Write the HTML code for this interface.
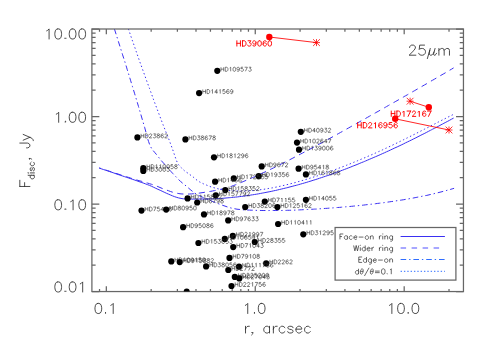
<!DOCTYPE html>
<html><head><meta charset="utf-8"><title>plot</title>
<style>html,body{margin:0;padding:0;background:#fff;font-family:"Liberation Sans",sans-serif;}svg{display:block}</style></head>
<body>
<svg width="491" height="350" viewBox="0 0 491 350">
<rect width="491" height="350" fill="#fff"/>
<clipPath id="c"><rect x="91.90" y="29.00" width="371.55" height="262.55"/></clipPath>
<g fill="none" stroke="#3a30f2" stroke-width="1" clip-path="url(#c)">
<path d="M99.2 168.1 L101.3 168.8 L103.4 169.5 L105.5 170.2 L107.6 170.9 L109.7 171.6 L111.8 172.3 L113.9 173.0 L116.0 173.8 L117.0 174.1 L118.1 174.5 L120.2 175.2 L122.3 175.9 L124.4 176.6 L126.5 177.3 L128.6 178.0 L130.7 178.7 L132.8 179.4 L134.8 180.1 L134.8 180.1 L136.9 180.8 L139.0 181.6 L141.1 182.3 L143.2 183.0 L145.3 183.8 L147.4 184.6 L148.0 184.8 L149.5 185.4 L151.6 186.3 L153.7 187.3 L155.8 188.3 L157.9 189.3 L160.0 190.2 L160.2 190.3 L162.1 191.2 L164.2 192.2 L166.3 193.2 L168.4 194.1 L170.5 195.0 L172.4 195.8 L172.6 195.9 L174.7 196.7 L176.8 197.4 L178.6 197.9 L178.9 198.0 L181.0 198.4 L183.1 198.8 L183.5 198.8 L185.2 198.9 L187.3 199.1 L189.4 199.1 L190.0 199.2 L191.5 199.1 L193.6 199.1 L195.7 199.1 L197.0 199.1 L197.8 199.1 L199.9 199.0 L202.0 199.0 L204.1 199.0 L206.1 199.0 L208.2 199.0 L208.2 199.0 L210.3 198.9 L212.4 198.9 L214.5 198.8 L216.6 198.6 L218.7 198.5 L219.3 198.5 L220.8 198.4 L222.9 198.3 L225.0 198.1 L227.1 197.9 L229.2 197.7 L230.5 197.6 L231.3 197.5 L233.4 197.3 L235.5 197.1 L237.6 196.9 L239.7 196.6 L241.6 196.4 L241.8 196.4 L243.9 196.1 L246.0 195.8 L248.1 195.5 L250.2 195.2 L252.3 194.8 L252.8 194.8 L254.4 194.5 L256.5 194.2 L258.6 193.8 L260.7 193.4 L262.8 193.0 L263.9 192.8 L264.9 192.6 L267.0 192.2 L269.1 191.8 L271.2 191.4 L273.3 190.9 L275.1 190.5 L275.4 190.5 L277.4 190.0 L279.5 189.5 L281.6 189.0 L283.7 188.5 L285.8 188.0 L286.3 187.9 L287.9 187.5 L290.0 186.9 L292.1 186.4 L294.2 185.8 L296.3 185.3 L297.4 185.0 L298.4 184.7 L300.5 184.1 L302.6 183.5 L304.7 182.9 L306.8 182.3 L308.6 181.7 L308.9 181.6 L311.0 181.0 L313.1 180.3 L315.2 179.7 L317.3 179.0 L319.4 178.3 L319.7 178.2 L321.5 177.6 L323.6 176.9 L325.7 176.2 L327.8 175.5 L329.9 174.8 L330.9 174.4 L332.0 174.0 L334.1 173.3 L336.2 172.5 L338.3 171.7 L340.4 171.0 L342.0 170.3 L342.5 170.2 L344.6 169.4 L346.7 168.6 L348.7 167.8 L350.8 167.0 L352.9 166.1 L353.2 166.0 L355.0 165.3 L357.1 164.5 L359.2 163.6 L361.3 162.7 L363.4 161.9 L364.3 161.5 L365.5 161.0 L367.6 160.1 L369.7 159.2 L371.8 158.3 L373.9 157.4 L375.5 156.7 L376.0 156.5 L378.1 155.6 L380.2 154.7 L382.3 153.7 L384.4 152.8 L386.5 151.8 L386.7 151.7 L388.6 150.9 L390.7 149.9 L392.8 148.9 L394.9 147.9 L397.0 147.0 L397.8 146.6 L399.1 146.0 L401.2 145.0 L403.3 144.0 L405.4 142.9 L407.5 141.9 L409.0 141.2 L409.6 140.9 L411.7 139.9 L413.8 138.8 L415.9 137.8 L418.0 136.7 L420.0 135.7 L420.1 135.6 L422.1 134.6 L424.2 133.6 L426.3 132.5 L428.4 131.4 L430.5 130.3 L431.3 129.9 L432.6 129.2 L434.7 128.2 L436.8 127.1 L438.9 126.0 L441.0 124.8 L442.4 124.1 L443.1 123.7 L445.2 122.6 L447.3 121.5 L449.4 120.4 L451.5 119.2 L453.6 118.1"/>
<path d="M99.2 167.9 L101.3 168.6 L103.4 169.3 L105.5 170.0 L107.6 170.6 L109.7 171.3 L111.8 172.0 L113.9 172.7 L116.0 173.4 L117.0 173.7 L118.1 174.0 L120.2 174.7 L122.3 175.4 L124.4 176.1 L126.5 176.8 L128.6 177.4 L130.7 178.1 L132.8 178.8 L134.8 179.4 L134.8 179.4 L136.9 180.0 L139.0 180.7 L141.1 181.2 L143.2 181.8 L145.3 182.4 L147.4 183.0 L149.5 183.7 L151.6 184.3 L153.7 185.0 L154.0 185.1 L155.8 185.8 L157.9 186.6 L160.0 187.5 L162.1 188.4 L164.2 189.2 L164.8 189.4 L166.3 190.0 L168.4 190.7 L170.5 191.5 L172.6 192.2 L174.7 192.8 L175.2 192.9 L176.8 193.2 L178.9 193.6 L181.0 193.9 L181.0 193.9 L183.1 194.0 L185.2 194.1 L185.5 194.1 L187.3 194.1 L189.4 194.0 L191.5 193.9 L193.6 193.7 L195.0 193.6 L195.7 193.5 L197.8 193.3 L199.9 193.0 L202.0 192.7 L204.1 192.4 L206.1 192.0 L207.0 191.9 L208.2 191.7 L210.3 191.4 L212.4 191.0 L214.5 190.6 L216.6 190.2 L218.7 189.8 L218.7 189.8 L220.8 189.3 L222.9 188.8 L225.0 188.3 L227.1 187.7 L229.2 187.1 L229.7 187.0 L231.3 186.4 L233.4 185.6 L235.5 184.8 L237.6 183.9 L239.4 183.2 L239.7 183.1 L241.8 182.2 L243.9 181.3 L246.0 180.4 L248.1 179.5 L249.2 179.1 L250.2 178.6 L252.3 177.7 L254.4 176.8 L256.5 175.8 L258.6 174.9 L258.9 174.7 L260.7 173.9 L262.8 173.0 L264.9 172.0 L267.0 171.0 L268.6 170.2 L269.1 170.0 L271.2 169.0 L273.3 168.0 L275.4 166.9 L277.4 165.9 L278.4 165.5 L279.5 164.9 L281.6 163.8 L283.7 162.8 L285.8 161.7 L287.9 160.7 L288.1 160.6 L290.0 159.6 L292.1 158.5 L294.2 157.4 L296.3 156.3 L297.8 155.5 L298.4 155.2 L300.5 154.1 L302.6 153.0 L304.7 151.9 L306.8 150.8 L307.6 150.4 L308.9 149.7 L311.0 148.6 L313.1 147.4 L315.2 146.3 L317.3 145.2 L317.3 145.2 L319.4 144.0 L321.5 142.9 L323.6 141.8 L325.7 140.6 L327.0 139.9 L327.8 139.5 L329.9 138.3 L332.0 137.2 L334.1 136.0 L336.2 134.8 L336.8 134.5 L338.3 133.7 L340.4 132.5 L342.5 131.4 L344.6 130.2 L346.5 129.1 L346.7 129.0 L348.7 127.9 L350.8 126.7 L352.9 125.5 L355.0 124.3 L356.3 123.7 L357.1 123.2 L359.2 122.0 L361.3 120.8 L363.4 119.6 L365.5 118.5 L366.0 118.2 L367.6 117.3 L369.7 116.1 L371.8 114.9 L373.9 113.7 L375.7 112.7 L376.0 112.5 L378.1 111.4 L380.2 110.2 L382.3 109.0 L384.4 107.8 L385.5 107.2 L386.5 106.6 L388.6 105.4 L390.7 104.2 L392.8 103.0 L394.9 101.9 L395.2 101.7 L397.0 100.7 L399.1 99.5 L401.2 98.3 L403.3 97.1 L404.9 96.1 L405.4 95.9 L407.5 94.7 L409.6 93.5 L411.7 92.3 L413.8 91.1 L414.7 90.6 L415.9 89.9 L418.0 88.7 L420.0 87.5 L422.1 86.3 L424.2 85.1 L424.4 85.0 L426.3 83.9 L428.4 82.7 L430.5 81.4 L432.6 80.2 L434.1 79.4 L434.7 79.0 L436.8 77.8 L438.9 76.6 L441.0 75.3 L443.1 74.1 L443.9 73.7 L445.2 72.9 L447.3 71.7 L449.4 70.4 L451.5 69.2 L453.6 67.9" stroke-dasharray="6.2 4.6" stroke-dashoffset="4.2"/>
<path d="M114.4 28.9 L116.4 35.2 L118.4 41.5 L120.4 47.8 L122.4 54.2 L124.5 60.6 L126.5 67.1 L127.1 69.2 L128.5 73.6 L130.5 80.2 L132.5 86.7 L134.5 93.2 L136.5 99.8 L138.5 106.5 L140.5 113.3 L142.5 120.2 L144.6 127.2 L146.0 132.4 L146.6 134.5 L147.8 139.2 L148.6 141.6 L149.7 144.7 L150.6 146.6 L151.5 148.3 L152.6 149.9 L154.6 152.3 L156.4 154.4 L156.6 154.7 L158.6 157.2 L160.6 159.8 L161.3 160.6 L162.6 162.1 L164.7 164.3 L166.7 166.5 L166.8 166.7 L168.7 168.9 L170.5 171.0 L170.7 171.2 L172.7 173.4 L174.7 175.5 L176.7 177.5 L176.7 177.5 L178.7 179.6 L180.7 181.6 L181.0 181.8 L182.7 183.3 L184.8 184.9 L186.8 186.6 L186.8 186.6 L188.8 188.3 L190.8 190.0 L192.0 191.0 L192.8 191.6 L194.8 193.1 L196.8 194.4 L197.2 194.6 L198.8 195.5 L200.8 196.4 L202.8 197.3 L204.9 198.2 L206.9 199.0 L208.0 199.5 L208.9 199.9 L210.9 200.7 L212.9 201.6 L214.9 202.4 L216.9 203.2 L218.9 203.9 L220.0 204.3 L220.9 204.6 L222.9 205.4 L225.0 206.1 L227.0 206.8 L229.0 207.4 L231.0 208.0 L232.8 208.4 L233.0 208.4 L235.0 208.8 L237.0 209.2 L239.0 209.4 L240.2 209.5 L241.0 209.6 L243.0 209.8 L245.1 209.9 L247.1 210.0 L249.1 210.1 L249.5 210.1 L251.1 210.2 L253.1 210.2 L255.1 210.3 L257.1 210.4 L258.8 210.4 L259.1 210.4 L261.1 210.5 L263.1 210.5 L265.2 210.5 L267.2 210.5 L268.1 210.6 L269.2 210.5 L271.2 210.5 L273.2 210.5 L275.2 210.5 L277.2 210.5 L277.4 210.5 L279.2 210.5 L281.2 210.5 L283.2 210.4 L285.3 210.4 L286.7 210.4 L287.3 210.3 L289.3 210.3 L291.3 210.2 L293.3 210.2 L295.3 210.1 L296.0 210.1 L297.3 210.0 L299.3 209.9 L301.3 209.8 L303.3 209.7 L305.3 209.6 L305.4 209.6 L307.4 209.5 L309.4 209.4 L311.4 209.3 L313.4 209.2 L314.6 209.1 L315.4 209.1 L317.4 209.0 L319.4 208.8 L321.4 208.7 L323.4 208.6 L323.9 208.5 L325.5 208.4 L327.5 208.3 L329.5 208.1 L331.5 208.0 L333.2 207.9 L333.5 207.8 L335.5 207.7 L337.5 207.5 L339.5 207.4 L341.5 207.2 L342.5 207.1 L343.5 207.0 L345.6 206.8 L347.6 206.7 L349.6 206.5 L351.6 206.3 L351.8 206.3 L353.6 206.1 L355.6 205.9 L357.6 205.7 L359.6 205.5 L361.1 205.3 L361.6 205.3 L363.6 205.1 L365.7 204.8 L367.7 204.6 L369.7 204.4 L370.4 204.3 L371.7 204.2 L373.7 203.9 L375.7 203.7 L377.7 203.4 L379.7 203.2 L379.7 203.2 L381.7 202.9 L383.7 202.7 L385.8 202.4 L387.8 202.1 L389.0 201.9 L389.8 201.8 L391.8 201.5 L393.8 201.3 L395.8 200.9 L397.8 200.6 L398.3 200.6 L399.8 200.3 L401.8 200.0 L403.8 199.7 L405.9 199.3 L407.6 199.0 L407.9 199.0 L409.9 198.6 L411.9 198.3 L413.9 197.9 L415.9 197.5 L416.9 197.3 L417.9 197.1 L419.9 196.8 L421.9 196.3 L423.9 195.9 L426.0 195.5 L426.2 195.5 L428.0 195.1 L430.0 194.6 L432.0 194.2 L434.0 193.7 L435.5 193.3 L436.0 193.2 L438.0 192.7 L440.0 192.2 L442.0 191.7 L444.0 191.1 L444.8 190.9 L446.1 190.6 L448.1 190.0 L450.1 189.5 L452.1 188.9 L454.1 188.3" stroke-dasharray="5.6 2.9 1.4 2.9"/>
<path d="M128.4 28.9 L130.3 34.5 L132.2 40.1 L134.2 45.6 L136.1 51.2 L138.0 56.6 L139.9 62.1 L141.9 67.4 L142.5 69.2 L143.8 72.8 L145.7 78.1 L147.6 83.4 L149.6 88.7 L151.5 93.9 L153.4 99.2 L155.3 104.3 L157.3 109.5 L159.2 114.6 L161.1 119.6 L163.0 124.6 L165.0 129.6 L165.6 131.2 L166.9 134.4 L168.6 138.6 L168.8 139.1 L170.7 144.3 L171.1 145.3 L172.7 149.6 L173.5 152.0 L174.6 155.2 L176.0 159.3 L176.5 160.6 L177.8 163.6 L178.4 164.5 L180.4 166.8 L181.5 167.9 L182.3 168.7 L184.2 170.5 L185.1 171.2 L186.1 172.0 L188.1 173.3 L189.6 174.4 L190.0 174.7 L191.9 176.1 L193.8 177.5 L193.8 177.5 L195.7 179.2 L197.5 180.6 L197.7 180.7 L199.6 181.9 L201.5 182.9 L201.8 183.0 L203.4 183.8 L205.4 184.6 L206.1 184.9 L207.3 185.4 L209.2 186.2 L211.1 186.9 L211.4 187.0 L213.1 187.5 L215.0 188.0 L215.4 188.1 L216.9 188.5 L218.8 189.0 L220.8 189.5 L222.0 189.7 L222.7 189.8 L224.6 190.1 L226.5 190.3 L228.5 190.5 L230.0 190.6 L230.4 190.6 L232.3 190.7 L234.2 190.9 L236.2 191.0 L238.1 191.0 L239.7 191.1 L240.0 191.1 L241.9 191.0 L243.9 191.0 L245.8 190.9 L247.7 190.8 L249.4 190.8 L249.6 190.8 L251.6 190.7 L253.5 190.5 L255.4 190.3 L257.3 190.1 L259.2 189.9 L259.2 189.9 L261.2 189.6 L263.1 189.4 L265.0 189.1 L266.9 188.8 L268.9 188.4 L268.9 188.4 L270.8 188.1 L272.7 187.8 L274.6 187.4 L276.6 187.0 L278.5 186.6 L278.6 186.6 L280.4 186.2 L282.3 185.7 L284.3 185.3 L286.2 184.8 L288.1 184.4 L288.3 184.3 L290.0 183.9 L292.0 183.4 L293.9 182.9 L295.8 182.4 L297.7 181.8 L298.1 181.7 L299.7 181.3 L301.6 180.7 L303.5 180.2 L305.4 179.6 L307.4 179.0 L307.8 178.9 L309.3 178.4 L311.2 177.8 L313.1 177.2 L315.1 176.6 L317.0 176.0 L317.5 175.8 L318.9 175.3 L320.8 174.7 L322.8 174.0 L324.7 173.3 L326.6 172.7 L327.2 172.5 L328.5 172.0 L330.4 171.3 L332.4 170.6 L334.3 169.9 L336.2 169.2 L336.9 168.9 L338.1 168.5 L340.1 167.7 L342.0 167.0 L343.9 166.3 L345.8 165.5 L346.7 165.2 L347.8 164.7 L349.7 164.0 L351.6 163.2 L353.5 162.4 L355.5 161.6 L356.4 161.3 L357.4 160.8 L359.3 160.0 L361.2 159.2 L363.2 158.4 L365.1 157.6 L366.1 157.2 L367.0 156.8 L368.9 155.9 L370.9 155.1 L372.8 154.2 L374.7 153.4 L375.8 152.9 L376.6 152.5 L378.6 151.6 L380.5 150.8 L382.4 149.9 L384.3 149.0 L385.5 148.4 L386.3 148.1 L388.2 147.2 L390.1 146.3 L392.0 145.4 L393.9 144.4 L395.3 143.8 L395.9 143.5 L397.8 142.6 L399.7 141.6 L401.6 140.7 L403.6 139.7 L405.0 139.0 L405.5 138.8 L407.4 137.8 L409.3 136.9 L411.3 135.9 L413.2 134.9 L414.7 134.2 L415.1 134.0 L417.0 133.0 L419.0 132.0 L420.9 131.0 L422.8 130.0 L424.4 129.2 L424.7 129.1 L426.7 128.1 L428.6 127.1 L430.5 126.1 L432.4 125.1 L434.2 124.2 L434.4 124.1 L436.3 123.1 L438.2 122.1 L440.1 121.1 L442.1 120.1 L443.9 119.2 L444.0 119.2 L445.9 118.2 L447.8 117.2 L449.8 116.2 L451.7 115.3 L453.6 114.3" stroke-dasharray="1.4 2.5"/>
</g>
<g fill="none" stroke="#666" stroke-width="1.25">
<rect x="91.90" y="29.00" width="371.55" height="262.55"/>
<path d="M99.52 291.55 v-2.63 M99.52 29.00 v2.63 M106.33 291.55 v-5.25 M106.33 29.00 v5.25 M151.16 291.55 v-2.63 M151.16 29.00 v2.63 M177.39 291.55 v-2.63 M177.39 29.00 v2.63 M196.00 291.55 v-2.63 M196.00 29.00 v2.63 M210.43 291.55 v-2.63 M210.43 29.00 v2.63 M222.22 291.55 v-2.63 M222.22 29.00 v2.63 M232.19 291.55 v-2.63 M232.19 29.00 v2.63 M240.83 291.55 v-2.63 M240.83 29.00 v2.63 M248.44 291.55 v-2.63 M248.44 29.00 v2.63 M255.26 291.55 v-5.25 M255.26 29.00 v5.25 M300.09 291.55 v-2.63 M300.09 29.00 v2.63 M326.32 291.55 v-2.63 M326.32 29.00 v2.63 M344.92 291.55 v-2.63 M344.92 29.00 v2.63 M359.35 291.55 v-2.63 M359.35 29.00 v2.63 M371.15 291.55 v-2.63 M371.15 29.00 v2.63 M381.12 291.55 v-2.63 M381.12 29.00 v2.63 M389.75 291.55 v-2.63 M389.75 29.00 v2.63 M397.37 291.55 v-2.63 M397.37 29.00 v2.63 M404.19 291.55 v-5.25 M404.19 29.00 v5.25 M449.02 291.55 v-2.63 M449.02 29.00 v2.63 M91.90 291.55 h7.43 M463.45 291.55 h-7.43 M91.90 265.20 h3.72 M463.45 265.20 h-3.72 M91.90 249.79 h3.72 M463.45 249.79 h-3.72 M91.90 238.86 h3.72 M463.45 238.86 h-3.72 M91.90 230.38 h3.72 M463.45 230.38 h-3.72 M91.90 223.45 h3.72 M463.45 223.45 h-3.72 M91.90 217.59 h3.72 M463.45 217.59 h-3.72 M91.90 212.51 h3.72 M463.45 212.51 h-3.72 M91.90 208.04 h3.72 M463.45 208.04 h-3.72 M91.90 204.03 h7.43 M463.45 204.03 h-7.43 M91.90 177.69 h3.72 M463.45 177.69 h-3.72 M91.90 162.28 h3.72 M463.45 162.28 h-3.72 M91.90 151.34 h3.72 M463.45 151.34 h-3.72 M91.90 142.86 h3.72 M463.45 142.86 h-3.72 M91.90 135.93 h3.72 M463.45 135.93 h-3.72 M91.90 130.07 h3.72 M463.45 130.07 h-3.72 M91.90 125.00 h3.72 M463.45 125.00 h-3.72 M91.90 120.52 h3.72 M463.45 120.52 h-3.72 M91.90 116.52 h7.43 M463.45 116.52 h-7.43 M91.90 90.17 h3.72 M463.45 90.17 h-3.72 M91.90 74.76 h3.72 M463.45 74.76 h-3.72 M91.90 63.83 h3.72 M463.45 63.83 h-3.72 M91.90 55.35 h3.72 M463.45 55.35 h-3.72 M91.90 48.42 h3.72 M463.45 48.42 h-3.72 M91.90 42.56 h3.72 M463.45 42.56 h-3.72 M91.90 37.48 h3.72 M463.45 37.48 h-3.72 M91.90 33.00 h3.72 M463.45 33.00 h-3.72 M91.90 29.00 h7.43 M463.45 29.00 h-7.43"/>
</g>
<g>
<circle cx="217.3" cy="70.8" r="3.1" fill="#000"/>
<path d="M220.98 67.23 L220.98 71.30 M223.69 67.23 L223.69 71.30 M220.98 69.17 L223.69 69.17 M225.24 67.23 L225.24 71.30 M225.24 67.23 L226.60 67.23 L227.18 67.42 L227.57 67.81 L227.77 68.20 L227.96 68.78 L227.96 69.75 L227.77 70.33 L227.57 70.72 L227.18 71.11 L226.60 71.30 L225.24 71.30 M229.71 68.00 L230.09 67.81 L230.68 67.23 L230.68 71.30 M234.17 67.23 L233.59 67.42 L233.20 68.00 L233.00 68.97 L233.00 69.55 L233.20 70.52 L233.59 71.11 L234.17 71.30 L234.56 71.30 L235.14 71.11 L235.53 70.52 L235.72 69.55 L235.72 68.97 L235.53 68.00 L235.14 67.42 L234.56 67.23 L234.17 67.23 M239.41 68.58 L239.21 69.17 L238.82 69.55 L238.24 69.75 L238.05 69.75 L237.47 69.55 L237.08 69.17 L236.88 68.58 L236.88 68.39 L237.08 67.81 L237.47 67.42 L238.05 67.23 L238.24 67.23 L238.82 67.42 L239.21 67.81 L239.41 68.58 L239.41 69.55 L239.21 70.52 L238.82 71.11 L238.24 71.30 L237.85 71.30 L237.27 71.11 L237.08 70.72 M243.09 67.23 L241.15 67.23 L240.96 68.97 L241.15 68.78 L241.73 68.58 L242.32 68.58 L242.90 68.78 L243.29 69.17 L243.48 69.75 L243.48 70.14 L243.29 70.72 L242.90 71.11 L242.32 71.30 L241.73 71.30 L241.15 71.11 L240.96 70.91 L240.76 70.52 M247.36 67.23 L245.42 71.30 M244.64 67.23 L247.36 67.23 M248.91 67.23 L251.05 67.23 L249.88 68.78 L250.46 68.78 L250.85 68.97 L251.05 69.17 L251.24 69.75 L251.24 70.14 L251.05 70.72 L250.66 71.11 L250.08 71.30 L249.49 71.30 L248.91 71.11 L248.72 70.91 L248.52 70.52" fill="none" stroke="#2a2a2a" stroke-width="0.6"/>
<circle cx="199.1" cy="93.1" r="3.1" fill="#000"/>
<path d="M202.78 89.53 L202.78 93.60 M205.49 89.53 L205.49 93.60 M202.78 91.47 L205.49 91.47 M207.04 89.53 L207.04 93.60 M207.04 89.53 L208.40 89.53 L208.98 89.72 L209.37 90.11 L209.57 90.50 L209.76 91.08 L209.76 92.05 L209.57 92.63 L209.37 93.02 L208.98 93.41 L208.40 93.60 L207.04 93.60 M211.51 90.30 L211.89 90.11 L212.48 89.53 L212.48 93.60 M216.74 89.53 L214.80 92.24 L217.71 92.24 M216.74 89.53 L216.74 93.60 M219.27 90.30 L219.65 90.11 L220.24 89.53 L220.24 93.60 M224.89 89.53 L222.95 89.53 L222.76 91.27 L222.95 91.08 L223.53 90.88 L224.12 90.88 L224.70 91.08 L225.09 91.47 L225.28 92.05 L225.28 92.44 L225.09 93.02 L224.70 93.41 L224.12 93.60 L223.53 93.60 L222.95 93.41 L222.76 93.21 L222.56 92.82 M228.97 90.11 L228.77 89.72 L228.19 89.53 L227.80 89.53 L227.22 89.72 L226.83 90.30 L226.64 91.27 L226.64 92.24 L226.83 93.02 L227.22 93.41 L227.80 93.60 L228.00 93.60 L228.58 93.41 L228.97 93.02 L229.16 92.44 L229.16 92.24 L228.97 91.66 L228.58 91.27 L228.00 91.08 L227.80 91.08 L227.22 91.27 L226.83 91.66 L226.64 92.24 M232.85 90.88 L232.65 91.47 L232.26 91.85 L231.68 92.05 L231.49 92.05 L230.91 91.85 L230.52 91.47 L230.32 90.88 L230.32 90.69 L230.52 90.11 L230.91 89.72 L231.49 89.53 L231.68 89.53 L232.26 89.72 L232.65 90.11 L232.85 90.88 L232.85 91.85 L232.65 92.82 L232.26 93.41 L231.68 93.60 L231.29 93.60 L230.71 93.41 L230.52 93.02" fill="none" stroke="#2a2a2a" stroke-width="0.6"/>
<circle cx="137.4" cy="137.4" r="3.1" fill="#000"/>
<path d="M141.08 133.83 L141.08 137.90 M143.79 133.83 L143.79 137.90 M141.08 135.77 L143.79 135.77 M145.34 133.83 L145.34 137.90 M145.34 133.83 L146.70 133.83 L147.28 134.02 L147.67 134.41 L147.87 134.80 L148.06 135.38 L148.06 136.35 L147.87 136.93 L147.67 137.32 L147.28 137.71 L146.70 137.90 L145.34 137.90 M149.42 134.80 L149.42 134.60 L149.61 134.21 L149.81 134.02 L150.19 133.83 L150.97 133.83 L151.36 134.02 L151.55 134.21 L151.75 134.60 L151.75 134.99 L151.55 135.38 L151.16 135.96 L149.22 137.90 L151.94 137.90 M153.49 133.83 L155.63 133.83 L154.46 135.38 L155.04 135.38 L155.43 135.57 L155.63 135.77 L155.82 136.35 L155.82 136.74 L155.63 137.32 L155.24 137.71 L154.66 137.90 L154.07 137.90 L153.49 137.71 L153.30 137.51 L153.10 137.12 M157.95 133.83 L157.37 134.02 L157.18 134.41 L157.18 134.80 L157.37 135.18 L157.76 135.38 L158.54 135.57 L159.12 135.77 L159.51 136.15 L159.70 136.54 L159.70 137.12 L159.51 137.51 L159.31 137.71 L158.73 137.90 L157.95 137.90 L157.37 137.71 L157.18 137.51 L156.98 137.12 L156.98 136.54 L157.18 136.15 L157.57 135.77 L158.15 135.57 L158.92 135.38 L159.31 135.18 L159.51 134.80 L159.51 134.41 L159.31 134.02 L158.73 133.83 L157.95 133.83 M163.39 134.41 L163.19 134.02 L162.61 133.83 L162.22 133.83 L161.64 134.02 L161.25 134.60 L161.06 135.57 L161.06 136.54 L161.25 137.32 L161.64 137.71 L162.22 137.90 L162.42 137.90 L163.00 137.71 L163.39 137.32 L163.58 136.74 L163.58 136.54 L163.39 135.96 L163.00 135.57 L162.42 135.38 L162.22 135.38 L161.64 135.57 L161.25 135.96 L161.06 136.54 M164.94 134.80 L164.94 134.60 L165.13 134.21 L165.33 134.02 L165.71 133.83 L166.49 133.83 L166.88 134.02 L167.07 134.21 L167.27 134.60 L167.27 134.99 L167.07 135.38 L166.68 135.96 L164.74 137.90 L167.46 137.90" fill="none" stroke="#2a2a2a" stroke-width="0.6"/>
<circle cx="185.4" cy="139.4" r="3.1" fill="#000"/>
<path d="M189.08 135.83 L189.08 139.90 M191.79 135.83 L191.79 139.90 M189.08 137.77 L191.79 137.77 M193.34 135.83 L193.34 139.90 M193.34 135.83 L194.70 135.83 L195.28 136.02 L195.67 136.41 L195.87 136.80 L196.06 137.38 L196.06 138.35 L195.87 138.93 L195.67 139.32 L195.28 139.71 L194.70 139.90 L193.34 139.90 M197.61 135.83 L199.75 135.83 L198.58 137.38 L199.16 137.38 L199.55 137.57 L199.75 137.77 L199.94 138.35 L199.94 138.74 L199.75 139.32 L199.36 139.71 L198.78 139.90 L198.19 139.90 L197.61 139.71 L197.42 139.51 L197.22 139.12 M202.07 135.83 L201.49 136.02 L201.30 136.41 L201.30 136.80 L201.49 137.18 L201.88 137.38 L202.66 137.57 L203.24 137.77 L203.63 138.15 L203.82 138.54 L203.82 139.12 L203.63 139.51 L203.43 139.71 L202.85 139.90 L202.07 139.90 L201.49 139.71 L201.30 139.51 L201.10 139.12 L201.10 138.54 L201.30 138.15 L201.69 137.77 L202.27 137.57 L203.04 137.38 L203.43 137.18 L203.63 136.80 L203.63 136.41 L203.43 136.02 L202.85 135.83 L202.07 135.83 M207.51 136.41 L207.31 136.02 L206.73 135.83 L206.34 135.83 L205.76 136.02 L205.37 136.60 L205.18 137.57 L205.18 138.54 L205.37 139.32 L205.76 139.71 L206.34 139.90 L206.54 139.90 L207.12 139.71 L207.51 139.32 L207.70 138.74 L207.70 138.54 L207.51 137.96 L207.12 137.57 L206.54 137.38 L206.34 137.38 L205.76 137.57 L205.37 137.96 L205.18 138.54 M211.58 135.83 L209.64 139.90 M208.86 135.83 L211.58 135.83 M213.71 135.83 L213.13 136.02 L212.94 136.41 L212.94 136.80 L213.13 137.18 L213.52 137.38 L214.30 137.57 L214.88 137.77 L215.27 138.15 L215.46 138.54 L215.46 139.12 L215.27 139.51 L215.07 139.71 L214.49 139.90 L213.71 139.90 L213.13 139.71 L212.94 139.51 L212.74 139.12 L212.74 138.54 L212.94 138.15 L213.33 137.77 L213.91 137.57 L214.68 137.38 L215.07 137.18 L215.27 136.80 L215.27 136.41 L215.07 136.02 L214.49 135.83 L213.71 135.83" fill="none" stroke="#2a2a2a" stroke-width="0.6"/>
<circle cx="214.0" cy="157.3" r="3.1" fill="#000"/>
<path d="M217.68 153.73 L217.68 157.80 M220.39 153.73 L220.39 157.80 M217.68 155.67 L220.39 155.67 M221.94 153.73 L221.94 157.80 M221.94 153.73 L223.30 153.73 L223.88 153.92 L224.27 154.31 L224.47 154.70 L224.66 155.28 L224.66 156.25 L224.47 156.83 L224.27 157.22 L223.88 157.61 L223.30 157.80 L221.94 157.80 M226.41 154.50 L226.79 154.31 L227.38 153.73 L227.38 157.80 M230.67 153.73 L230.09 153.92 L229.90 154.31 L229.90 154.70 L230.09 155.08 L230.48 155.28 L231.26 155.47 L231.84 155.67 L232.23 156.05 L232.42 156.44 L232.42 157.02 L232.23 157.41 L232.03 157.61 L231.45 157.80 L230.67 157.80 L230.09 157.61 L229.90 157.41 L229.70 157.02 L229.70 156.44 L229.90 156.05 L230.29 155.67 L230.87 155.47 L231.64 155.28 L232.03 155.08 L232.23 154.70 L232.23 154.31 L232.03 153.92 L231.45 153.73 L230.67 153.73 M234.17 154.50 L234.55 154.31 L235.14 153.73 L235.14 157.80 M237.66 154.70 L237.66 154.50 L237.85 154.11 L238.05 153.92 L238.43 153.73 L239.21 153.73 L239.60 153.92 L239.79 154.11 L239.99 154.50 L239.99 154.89 L239.79 155.28 L239.40 155.86 L237.46 157.80 L240.18 157.80 M243.87 155.08 L243.67 155.67 L243.28 156.05 L242.70 156.25 L242.51 156.25 L241.93 156.05 L241.54 155.67 L241.34 155.08 L241.34 154.89 L241.54 154.31 L241.93 153.92 L242.51 153.73 L242.70 153.73 L243.28 153.92 L243.67 154.31 L243.87 155.08 L243.87 156.05 L243.67 157.02 L243.28 157.61 L242.70 157.80 L242.31 157.80 L241.73 157.61 L241.54 157.22 M247.75 154.31 L247.55 153.92 L246.97 153.73 L246.58 153.73 L246.00 153.92 L245.61 154.50 L245.42 155.47 L245.42 156.44 L245.61 157.22 L246.00 157.61 L246.58 157.80 L246.78 157.80 L247.36 157.61 L247.75 157.22 L247.94 156.64 L247.94 156.44 L247.75 155.86 L247.36 155.47 L246.78 155.28 L246.58 155.28 L246.00 155.47 L245.61 155.86 L245.42 156.44" fill="none" stroke="#2a2a2a" stroke-width="0.6"/>
<circle cx="143.3" cy="168.2" r="3.1" fill="#000"/>
<path d="M146.98 164.63 L146.98 168.70 M149.69 164.63 L149.69 168.70 M146.98 166.57 L149.69 166.57 M151.24 164.63 L151.24 168.70 M151.24 164.63 L152.60 164.63 L153.18 164.82 L153.57 165.21 L153.77 165.60 L153.96 166.18 L153.96 167.15 L153.77 167.73 L153.57 168.12 L153.18 168.51 L152.60 168.70 L151.24 168.70 M155.71 165.40 L156.09 165.21 L156.68 164.63 L156.68 168.70 M159.59 165.40 L159.97 165.21 L160.56 164.63 L160.56 168.70 M164.05 164.63 L163.47 164.82 L163.08 165.40 L162.88 166.37 L162.88 166.95 L163.08 167.92 L163.47 168.51 L164.05 168.70 L164.44 168.70 L165.02 168.51 L165.41 167.92 L165.60 166.95 L165.60 166.37 L165.41 165.40 L165.02 164.82 L164.44 164.63 L164.05 164.63 M167.93 164.63 L167.35 164.82 L166.96 165.40 L166.76 166.37 L166.76 166.95 L166.96 167.92 L167.35 168.51 L167.93 168.70 L168.32 168.70 L168.90 168.51 L169.29 167.92 L169.48 166.95 L169.48 166.37 L169.29 165.40 L168.90 164.82 L168.32 164.63 L167.93 164.63 M172.97 164.63 L171.03 164.63 L170.84 166.37 L171.03 166.18 L171.61 165.98 L172.20 165.98 L172.78 166.18 L173.17 166.57 L173.36 167.15 L173.36 167.54 L173.17 168.12 L172.78 168.51 L172.20 168.70 L171.61 168.70 L171.03 168.51 L170.84 168.31 L170.64 167.92 M175.49 164.63 L174.91 164.82 L174.72 165.21 L174.72 165.60 L174.91 165.98 L175.30 166.18 L176.08 166.37 L176.66 166.57 L177.05 166.95 L177.24 167.34 L177.24 167.92 L177.05 168.31 L176.85 168.51 L176.27 168.70 L175.49 168.70 L174.91 168.51 L174.72 168.31 L174.52 167.92 L174.52 167.34 L174.72 166.95 L175.11 166.57 L175.69 166.37 L176.46 166.18 L176.85 165.98 L177.05 165.60 L177.05 165.21 L176.85 164.82 L176.27 164.63 L175.49 164.63" fill="none" stroke="#2a2a2a" stroke-width="0.6"/>
<circle cx="143.3" cy="170.9" r="3.1" fill="#000"/>
<path d="M146.98 167.33 L146.98 171.40 M149.69 167.33 L149.69 171.40 M146.98 169.27 L149.69 169.27 M151.24 167.33 L151.24 171.40 M151.24 167.33 L152.60 167.33 L153.18 167.52 L153.57 167.91 L153.77 168.30 L153.96 168.88 L153.96 169.85 L153.77 170.43 L153.57 170.82 L153.18 171.21 L152.60 171.40 L151.24 171.40 M155.51 167.33 L157.65 167.33 L156.48 168.88 L157.06 168.88 L157.45 169.07 L157.65 169.27 L157.84 169.85 L157.84 170.24 L157.65 170.82 L157.26 171.21 L156.68 171.40 L156.09 171.40 L155.51 171.21 L155.32 171.01 L155.12 170.62 M160.17 167.33 L159.59 167.52 L159.20 168.10 L159.00 169.07 L159.00 169.65 L159.20 170.62 L159.59 171.21 L160.17 171.40 L160.56 171.40 L161.14 171.21 L161.53 170.62 L161.72 169.65 L161.72 169.07 L161.53 168.10 L161.14 167.52 L160.56 167.33 L160.17 167.33 M164.05 167.33 L163.47 167.52 L163.08 168.10 L162.88 169.07 L162.88 169.65 L163.08 170.62 L163.47 171.21 L164.05 171.40 L164.44 171.40 L165.02 171.21 L165.41 170.62 L165.60 169.65 L165.60 169.07 L165.41 168.10 L165.02 167.52 L164.44 167.33 L164.05 167.33 M167.15 167.33 L169.29 167.33 L168.12 168.88 L168.70 168.88 L169.09 169.07 L169.29 169.27 L169.48 169.85 L169.48 170.24 L169.29 170.82 L168.90 171.21 L168.32 171.40 L167.73 171.40 L167.15 171.21 L166.96 171.01 L166.76 170.62" fill="none" stroke="#2a2a2a" stroke-width="0.6"/>
<circle cx="300.8" cy="131.8" r="3.1" fill="#000"/>
<path d="M304.48 128.23 L304.48 132.30 M307.19 128.23 L307.19 132.30 M304.48 130.17 L307.19 130.17 M308.74 128.23 L308.74 132.30 M308.74 128.23 L310.10 128.23 L310.68 128.42 L311.07 128.81 L311.27 129.20 L311.46 129.78 L311.46 130.75 L311.27 131.33 L311.07 131.72 L310.68 132.11 L310.10 132.30 L308.74 132.30 M314.56 128.23 L312.62 130.94 L315.53 130.94 M314.56 128.23 L314.56 132.30 M317.67 128.23 L317.09 128.42 L316.70 129.00 L316.50 129.97 L316.50 130.55 L316.70 131.52 L317.09 132.11 L317.67 132.30 L318.06 132.30 L318.64 132.11 L319.03 131.52 L319.22 130.55 L319.22 129.97 L319.03 129.00 L318.64 128.42 L318.06 128.23 L317.67 128.23 M322.91 129.58 L322.71 130.17 L322.32 130.55 L321.74 130.75 L321.55 130.75 L320.97 130.55 L320.58 130.17 L320.38 129.58 L320.38 129.39 L320.58 128.81 L320.97 128.42 L321.55 128.23 L321.74 128.23 L322.32 128.42 L322.71 128.81 L322.91 129.58 L322.91 130.55 L322.71 131.52 L322.32 132.11 L321.74 132.30 L321.35 132.30 L320.77 132.11 L320.58 131.72 M324.65 128.23 L326.79 128.23 L325.62 129.78 L326.20 129.78 L326.59 129.97 L326.79 130.17 L326.98 130.75 L326.98 131.14 L326.79 131.72 L326.40 132.11 L325.82 132.30 L325.23 132.30 L324.65 132.11 L324.46 131.91 L324.26 131.52 M328.34 129.20 L328.34 129.00 L328.53 128.61 L328.73 128.42 L329.11 128.23 L329.89 128.23 L330.28 128.42 L330.47 128.61 L330.67 129.00 L330.67 129.39 L330.47 129.78 L330.08 130.36 L328.14 132.30 L330.86 132.30" fill="none" stroke="#2a2a2a" stroke-width="0.6"/>
<circle cx="297.0" cy="142.6" r="3.1" fill="#000"/>
<path d="M300.68 139.03 L300.68 143.10 M303.39 139.03 L303.39 143.10 M300.68 140.97 L303.39 140.97 M304.94 139.03 L304.94 143.10 M304.94 139.03 L306.30 139.03 L306.88 139.22 L307.27 139.61 L307.47 140.00 L307.66 140.58 L307.66 141.55 L307.47 142.13 L307.27 142.52 L306.88 142.91 L306.30 143.10 L304.94 143.10 M309.41 139.80 L309.79 139.61 L310.38 139.03 L310.38 143.10 M313.87 139.03 L313.29 139.22 L312.90 139.80 L312.70 140.77 L312.70 141.35 L312.90 142.32 L313.29 142.91 L313.87 143.10 L314.26 143.10 L314.84 142.91 L315.23 142.32 L315.42 141.35 L315.42 140.77 L315.23 139.80 L314.84 139.22 L314.26 139.03 L313.87 139.03 M316.78 140.00 L316.78 139.80 L316.97 139.41 L317.17 139.22 L317.55 139.03 L318.33 139.03 L318.72 139.22 L318.91 139.41 L319.11 139.80 L319.11 140.19 L318.91 140.58 L318.52 141.16 L316.58 143.10 L319.30 143.10 M322.99 139.61 L322.79 139.22 L322.21 139.03 L321.82 139.03 L321.24 139.22 L320.85 139.80 L320.66 140.77 L320.66 141.74 L320.85 142.52 L321.24 142.91 L321.82 143.10 L322.02 143.10 L322.60 142.91 L322.99 142.52 L323.18 141.94 L323.18 141.74 L322.99 141.16 L322.60 140.77 L322.02 140.58 L321.82 140.58 L321.24 140.77 L320.85 141.16 L320.66 141.74 M326.28 139.03 L324.34 141.74 L327.25 141.74 M326.28 139.03 L326.28 143.10 M330.94 139.03 L329.00 143.10 M328.22 139.03 L330.94 139.03" fill="none" stroke="#2a2a2a" stroke-width="0.6"/>
<circle cx="299.0" cy="149.7" r="3.1" fill="#000"/>
<path d="M302.68 146.13 L302.68 150.20 M305.39 146.13 L305.39 150.20 M302.68 148.07 L305.39 148.07 M306.94 146.13 L306.94 150.20 M306.94 146.13 L308.30 146.13 L308.88 146.32 L309.27 146.71 L309.47 147.10 L309.66 147.68 L309.66 148.65 L309.47 149.23 L309.27 149.62 L308.88 150.01 L308.30 150.20 L306.94 150.20 M311.41 146.90 L311.79 146.71 L312.38 146.13 L312.38 150.20 M315.09 146.13 L317.23 146.13 L316.06 147.68 L316.64 147.68 L317.03 147.87 L317.23 148.07 L317.42 148.65 L317.42 149.04 L317.23 149.62 L316.84 150.01 L316.26 150.20 L315.67 150.20 L315.09 150.01 L314.90 149.81 L314.70 149.42 M321.11 147.48 L320.91 148.07 L320.52 148.45 L319.94 148.65 L319.75 148.65 L319.17 148.45 L318.78 148.07 L318.58 147.48 L318.58 147.29 L318.78 146.71 L319.17 146.32 L319.75 146.13 L319.94 146.13 L320.52 146.32 L320.91 146.71 L321.11 147.48 L321.11 148.45 L320.91 149.42 L320.52 150.01 L319.94 150.20 L319.55 150.20 L318.97 150.01 L318.78 149.62 M323.63 146.13 L323.05 146.32 L322.66 146.90 L322.46 147.87 L322.46 148.45 L322.66 149.42 L323.05 150.01 L323.63 150.20 L324.02 150.20 L324.60 150.01 L324.99 149.42 L325.18 148.45 L325.18 147.87 L324.99 146.90 L324.60 146.32 L324.02 146.13 L323.63 146.13 M327.51 146.13 L326.93 146.32 L326.54 146.90 L326.34 147.87 L326.34 148.45 L326.54 149.42 L326.93 150.01 L327.51 150.20 L327.90 150.20 L328.48 150.01 L328.87 149.42 L329.06 148.45 L329.06 147.87 L328.87 146.90 L328.48 146.32 L327.90 146.13 L327.51 146.13 M332.75 146.71 L332.55 146.32 L331.97 146.13 L331.58 146.13 L331.00 146.32 L330.61 146.90 L330.42 147.87 L330.42 148.84 L330.61 149.62 L331.00 150.01 L331.58 150.20 L331.78 150.20 L332.36 150.01 L332.75 149.62 L332.94 149.04 L332.94 148.84 L332.75 148.26 L332.36 147.87 L331.78 147.68 L331.58 147.68 L331.00 147.87 L330.61 148.26 L330.42 148.84" fill="none" stroke="#2a2a2a" stroke-width="0.6"/>
<circle cx="261.7" cy="166.4" r="3.1" fill="#000"/>
<path d="M265.38 162.83 L265.38 166.90 M268.09 162.83 L268.09 166.90 M265.38 164.77 L268.09 164.77 M269.64 162.83 L269.64 166.90 M269.64 162.83 L271.00 162.83 L271.58 163.02 L271.97 163.41 L272.17 163.80 L272.36 164.38 L272.36 165.35 L272.17 165.93 L271.97 166.32 L271.58 166.71 L271.00 166.90 L269.64 166.90 M276.05 164.18 L275.85 164.77 L275.46 165.15 L274.88 165.35 L274.69 165.35 L274.11 165.15 L273.72 164.77 L273.52 164.18 L273.52 163.99 L273.72 163.41 L274.11 163.02 L274.69 162.83 L274.88 162.83 L275.46 163.02 L275.85 163.41 L276.05 164.18 L276.05 165.15 L275.85 166.12 L275.46 166.71 L274.88 166.90 L274.49 166.90 L273.91 166.71 L273.72 166.32 M279.93 163.41 L279.73 163.02 L279.15 162.83 L278.76 162.83 L278.18 163.02 L277.79 163.60 L277.60 164.57 L277.60 165.54 L277.79 166.32 L278.18 166.71 L278.76 166.90 L278.96 166.90 L279.54 166.71 L279.93 166.32 L280.12 165.74 L280.12 165.54 L279.93 164.96 L279.54 164.57 L278.96 164.38 L278.76 164.38 L278.18 164.57 L277.79 164.96 L277.60 165.54 M284.00 162.83 L282.06 166.90 M281.28 162.83 L284.00 162.83 M285.36 163.80 L285.36 163.60 L285.55 163.21 L285.75 163.02 L286.13 162.83 L286.91 162.83 L287.30 163.02 L287.49 163.21 L287.69 163.60 L287.69 163.99 L287.49 164.38 L287.10 164.96 L285.16 166.90 L287.88 166.90" fill="none" stroke="#2a2a2a" stroke-width="0.6"/>
<circle cx="298.6" cy="168.7" r="3.1" fill="#000"/>
<path d="M302.28 165.13 L302.28 169.20 M304.99 165.13 L304.99 169.20 M302.28 167.07 L304.99 167.07 M306.54 165.13 L306.54 169.20 M306.54 165.13 L307.90 165.13 L308.48 165.32 L308.87 165.71 L309.07 166.10 L309.26 166.68 L309.26 167.65 L309.07 168.23 L308.87 168.62 L308.48 169.01 L307.90 169.20 L306.54 169.20 M312.95 166.48 L312.75 167.07 L312.36 167.45 L311.78 167.65 L311.59 167.65 L311.01 167.45 L310.62 167.07 L310.42 166.48 L310.42 166.29 L310.62 165.71 L311.01 165.32 L311.59 165.13 L311.78 165.13 L312.36 165.32 L312.75 165.71 L312.95 166.48 L312.95 167.45 L312.75 168.42 L312.36 169.01 L311.78 169.20 L311.39 169.20 L310.81 169.01 L310.62 168.62 M316.63 165.13 L314.69 165.13 L314.50 166.87 L314.69 166.68 L315.27 166.48 L315.86 166.48 L316.44 166.68 L316.83 167.07 L317.02 167.65 L317.02 168.04 L316.83 168.62 L316.44 169.01 L315.86 169.20 L315.27 169.20 L314.69 169.01 L314.50 168.81 L314.30 168.42 M320.12 165.13 L318.18 167.84 L321.09 167.84 M320.12 165.13 L320.12 169.20 M322.65 165.90 L323.03 165.71 L323.62 165.13 L323.62 169.20 M326.91 165.13 L326.33 165.32 L326.14 165.71 L326.14 166.10 L326.33 166.48 L326.72 166.68 L327.50 166.87 L328.08 167.07 L328.47 167.45 L328.66 167.84 L328.66 168.42 L328.47 168.81 L328.27 169.01 L327.69 169.20 L326.91 169.20 L326.33 169.01 L326.14 168.81 L325.94 168.42 L325.94 167.84 L326.14 167.45 L326.53 167.07 L327.11 166.87 L327.88 166.68 L328.27 166.48 L328.47 166.10 L328.47 165.71 L328.27 165.32 L327.69 165.13 L326.91 165.13" fill="none" stroke="#2a2a2a" stroke-width="0.6"/>
<circle cx="305.9" cy="174.4" r="3.1" fill="#000"/>
<path d="M309.58 170.83 L309.58 174.90 M312.29 170.83 L312.29 174.90 M309.58 172.77 L312.29 172.77 M313.84 170.83 L313.84 174.90 M313.84 170.83 L315.20 170.83 L315.78 171.02 L316.17 171.41 L316.37 171.80 L316.56 172.38 L316.56 173.35 L316.37 173.93 L316.17 174.32 L315.78 174.71 L315.20 174.90 L313.84 174.90 M318.31 171.60 L318.69 171.41 L319.28 170.83 L319.28 174.90 M324.13 171.41 L323.93 171.02 L323.35 170.83 L322.96 170.83 L322.38 171.02 L321.99 171.60 L321.80 172.57 L321.80 173.54 L321.99 174.32 L322.38 174.71 L322.96 174.90 L323.16 174.90 L323.74 174.71 L324.13 174.32 L324.32 173.74 L324.32 173.54 L324.13 172.96 L323.74 172.57 L323.16 172.38 L322.96 172.38 L322.38 172.57 L321.99 172.96 L321.80 173.54 M326.07 171.60 L326.45 171.41 L327.04 170.83 L327.04 174.90 M330.33 170.83 L329.75 171.02 L329.56 171.41 L329.56 171.80 L329.75 172.18 L330.14 172.38 L330.92 172.57 L331.50 172.77 L331.89 173.15 L332.08 173.54 L332.08 174.12 L331.89 174.51 L331.69 174.71 L331.11 174.90 L330.33 174.90 L329.75 174.71 L329.56 174.51 L329.36 174.12 L329.36 173.54 L329.56 173.15 L329.95 172.77 L330.53 172.57 L331.30 172.38 L331.69 172.18 L331.89 171.80 L331.89 171.41 L331.69 171.02 L331.11 170.83 L330.33 170.83 M335.77 171.41 L335.57 171.02 L334.99 170.83 L334.60 170.83 L334.02 171.02 L333.63 171.60 L333.44 172.57 L333.44 173.54 L333.63 174.32 L334.02 174.71 L334.60 174.90 L334.80 174.90 L335.38 174.71 L335.77 174.32 L335.96 173.74 L335.96 173.54 L335.77 172.96 L335.38 172.57 L334.80 172.38 L334.60 172.38 L334.02 172.57 L333.63 172.96 L333.44 173.54 M338.09 170.83 L337.51 171.02 L337.32 171.41 L337.32 171.80 L337.51 172.18 L337.90 172.38 L338.68 172.57 L339.26 172.77 L339.65 173.15 L339.84 173.54 L339.84 174.12 L339.65 174.51 L339.45 174.71 L338.87 174.90 L338.09 174.90 L337.51 174.71 L337.32 174.51 L337.12 174.12 L337.12 173.54 L337.32 173.15 L337.71 172.77 L338.29 172.57 L339.06 172.38 L339.45 172.18 L339.65 171.80 L339.65 171.41 L339.45 171.02 L338.87 170.83 L338.09 170.83" fill="none" stroke="#2a2a2a" stroke-width="0.6"/>
<circle cx="258.7" cy="176.2" r="3.1" fill="#000"/>
<path d="M262.38 172.63 L262.38 176.70 M265.09 172.63 L265.09 176.70 M262.38 174.57 L265.09 174.57 M266.64 172.63 L266.64 176.70 M266.64 172.63 L268.00 172.63 L268.58 172.82 L268.97 173.21 L269.17 173.60 L269.36 174.18 L269.36 175.15 L269.17 175.73 L268.97 176.12 L268.58 176.51 L268.00 176.70 L266.64 176.70 M271.11 173.40 L271.49 173.21 L272.08 172.63 L272.08 176.70 M276.93 173.98 L276.73 174.57 L276.34 174.95 L275.76 175.15 L275.57 175.15 L274.99 174.95 L274.60 174.57 L274.40 173.98 L274.40 173.79 L274.60 173.21 L274.99 172.82 L275.57 172.63 L275.76 172.63 L276.34 172.82 L276.73 173.21 L276.93 173.98 L276.93 174.95 L276.73 175.92 L276.34 176.51 L275.76 176.70 L275.37 176.70 L274.79 176.51 L274.60 176.12 M278.67 172.63 L280.81 172.63 L279.64 174.18 L280.22 174.18 L280.61 174.37 L280.81 174.57 L281.00 175.15 L281.00 175.54 L280.81 176.12 L280.42 176.51 L279.84 176.70 L279.25 176.70 L278.67 176.51 L278.48 176.31 L278.28 175.92 M284.49 172.63 L282.55 172.63 L282.36 174.37 L282.55 174.18 L283.13 173.98 L283.72 173.98 L284.30 174.18 L284.69 174.57 L284.88 175.15 L284.88 175.54 L284.69 176.12 L284.30 176.51 L283.72 176.70 L283.13 176.70 L282.55 176.51 L282.36 176.31 L282.16 175.92 M288.57 173.21 L288.37 172.82 L287.79 172.63 L287.40 172.63 L286.82 172.82 L286.43 173.40 L286.24 174.37 L286.24 175.34 L286.43 176.12 L286.82 176.51 L287.40 176.70 L287.60 176.70 L288.18 176.51 L288.57 176.12 L288.76 175.54 L288.76 175.34 L288.57 174.76 L288.18 174.37 L287.60 174.18 L287.40 174.18 L286.82 174.37 L286.43 174.76 L286.24 175.34" fill="none" stroke="#2a2a2a" stroke-width="0.6"/>
<circle cx="233.8" cy="178.4" r="3.1" fill="#000"/>
<path d="M237.48 174.83 L237.48 178.90 M240.19 174.83 L240.19 178.90 M237.48 176.77 L240.19 176.77 M241.74 174.83 L241.74 178.90 M241.74 174.83 L243.10 174.83 L243.68 175.02 L244.07 175.41 L244.27 175.80 L244.46 176.38 L244.46 177.35 L244.27 177.93 L244.07 178.32 L243.68 178.71 L243.10 178.90 L241.74 178.90 M246.21 175.60 L246.59 175.41 L247.18 174.83 L247.18 178.90 M252.22 174.83 L250.28 178.90 M249.50 174.83 L252.22 174.83 M253.58 175.80 L253.58 175.60 L253.77 175.21 L253.97 175.02 L254.35 174.83 L255.13 174.83 L255.52 175.02 L255.71 175.21 L255.91 175.60 L255.91 175.99 L255.71 176.38 L255.32 176.96 L253.38 178.90 L256.10 178.90 M259.59 174.83 L257.65 174.83 L257.46 176.57 L257.65 176.38 L258.23 176.18 L258.82 176.18 L259.40 176.38 L259.79 176.77 L259.98 177.35 L259.98 177.74 L259.79 178.32 L259.40 178.71 L258.82 178.90 L258.23 178.90 L257.65 178.71 L257.46 178.51 L257.26 178.12 M263.47 174.83 L261.53 174.83 L261.34 176.57 L261.53 176.38 L262.11 176.18 L262.70 176.18 L263.28 176.38 L263.67 176.77 L263.86 177.35 L263.86 177.74 L263.67 178.32 L263.28 178.71 L262.70 178.90 L262.11 178.90 L261.53 178.71 L261.34 178.51 L261.14 178.12 M267.35 174.83 L265.41 174.83 L265.22 176.57 L265.41 176.38 L265.99 176.18 L266.58 176.18 L267.16 176.38 L267.55 176.77 L267.74 177.35 L267.74 177.74 L267.55 178.32 L267.16 178.71 L266.58 178.90 L265.99 178.90 L265.41 178.71 L265.22 178.51 L265.02 178.12" fill="none" stroke="#2a2a2a" stroke-width="0.6"/>
<circle cx="215.1" cy="181.7" r="3.1" fill="#000"/>
<path d="M218.78 178.13 L218.78 182.20 M221.49 178.13 L221.49 182.20 M218.78 180.07 L221.49 180.07 M223.04 178.13 L223.04 182.20 M223.04 178.13 L224.40 178.13 L224.98 178.32 L225.37 178.71 L225.57 179.10 L225.76 179.68 L225.76 180.65 L225.57 181.23 L225.37 181.62 L224.98 182.01 L224.40 182.20 L223.04 182.20 M227.51 178.90 L227.89 178.71 L228.48 178.13 L228.48 182.20 M232.74 178.13 L230.80 180.84 L233.71 180.84 M232.74 178.13 L232.74 182.20 M237.21 178.71 L237.01 178.32 L236.43 178.13 L236.04 178.13 L235.46 178.32 L235.07 178.90 L234.88 179.87 L234.88 180.84 L235.07 181.62 L235.46 182.01 L236.04 182.20 L236.24 182.20 L236.82 182.01 L237.21 181.62 L237.40 181.04 L237.40 180.84 L237.21 180.26 L236.82 179.87 L236.24 179.68 L236.04 179.68 L235.46 179.87 L235.07 180.26 L234.88 180.84 M241.09 178.71 L240.89 178.32 L240.31 178.13 L239.92 178.13 L239.34 178.32 L238.95 178.90 L238.76 179.87 L238.76 180.84 L238.95 181.62 L239.34 182.01 L239.92 182.20 L240.12 182.20 L240.70 182.01 L241.09 181.62 L241.28 181.04 L241.28 180.84 L241.09 180.26 L240.70 179.87 L240.12 179.68 L239.92 179.68 L239.34 179.87 L238.95 180.26 L238.76 180.84" fill="none" stroke="#2a2a2a" stroke-width="0.6"/>
<circle cx="225.3" cy="190.1" r="3.1" fill="#000"/>
<path d="M228.98 186.53 L228.98 190.60 M231.69 186.53 L231.69 190.60 M228.98 188.47 L231.69 188.47 M233.24 186.53 L233.24 190.60 M233.24 186.53 L234.60 186.53 L235.18 186.72 L235.57 187.11 L235.77 187.50 L235.96 188.08 L235.96 189.05 L235.77 189.63 L235.57 190.02 L235.18 190.41 L234.60 190.60 L233.24 190.60 M237.71 187.30 L238.09 187.11 L238.68 186.53 L238.68 190.60 M243.33 186.53 L241.39 186.53 L241.20 188.27 L241.39 188.08 L241.97 187.88 L242.56 187.88 L243.14 188.08 L243.53 188.47 L243.72 189.05 L243.72 189.44 L243.53 190.02 L243.14 190.41 L242.56 190.60 L241.97 190.60 L241.39 190.41 L241.20 190.21 L241.00 189.82 M245.85 186.53 L245.27 186.72 L245.08 187.11 L245.08 187.50 L245.27 187.88 L245.66 188.08 L246.44 188.27 L247.02 188.47 L247.41 188.85 L247.60 189.24 L247.60 189.82 L247.41 190.21 L247.21 190.41 L246.63 190.60 L245.85 190.60 L245.27 190.41 L245.08 190.21 L244.88 189.82 L244.88 189.24 L245.08 188.85 L245.47 188.47 L246.05 188.27 L246.82 188.08 L247.21 187.88 L247.41 187.50 L247.41 187.11 L247.21 186.72 L246.63 186.53 L245.85 186.53 M249.15 186.53 L251.29 186.53 L250.12 188.08 L250.70 188.08 L251.09 188.27 L251.29 188.47 L251.48 189.05 L251.48 189.44 L251.29 190.02 L250.90 190.41 L250.32 190.60 L249.73 190.60 L249.15 190.41 L248.96 190.21 L248.76 189.82 M254.97 186.53 L253.03 186.53 L252.84 188.27 L253.03 188.08 L253.61 187.88 L254.20 187.88 L254.78 188.08 L255.17 188.47 L255.36 189.05 L255.36 189.44 L255.17 190.02 L254.78 190.41 L254.20 190.60 L253.61 190.60 L253.03 190.41 L252.84 190.21 L252.64 189.82 M256.72 187.50 L256.72 187.30 L256.91 186.91 L257.11 186.72 L257.49 186.53 L258.27 186.53 L258.66 186.72 L258.85 186.91 L259.05 187.30 L259.05 187.69 L258.85 188.08 L258.46 188.66 L256.52 190.60 L259.24 190.60" fill="none" stroke="#2a2a2a" stroke-width="0.6"/>
<circle cx="215.8" cy="195.3" r="3.1" fill="#000"/>
<path d="M219.48 191.73 L219.48 195.80 M222.19 191.73 L222.19 195.80 M219.48 193.67 L222.19 193.67 M223.74 191.73 L223.74 195.80 M223.74 191.73 L225.10 191.73 L225.68 191.92 L226.07 192.31 L226.27 192.70 L226.46 193.28 L226.46 194.25 L226.27 194.83 L226.07 195.22 L225.68 195.61 L225.10 195.80 L223.74 195.80 M228.21 192.50 L228.59 192.31 L229.18 191.73 L229.18 195.80 M233.83 191.73 L231.89 191.73 L231.70 193.47 L231.89 193.28 L232.47 193.08 L233.06 193.08 L233.64 193.28 L234.03 193.67 L234.22 194.25 L234.22 194.64 L234.03 195.22 L233.64 195.61 L233.06 195.80 L232.47 195.80 L231.89 195.61 L231.70 195.41 L231.50 195.02 M238.10 191.73 L236.16 195.80 M235.38 191.73 L238.10 191.73 M241.98 191.73 L240.04 195.80 M239.26 191.73 L241.98 191.73 M245.67 193.08 L245.47 193.67 L245.08 194.05 L244.50 194.25 L244.31 194.25 L243.73 194.05 L243.34 193.67 L243.14 193.08 L243.14 192.89 L243.34 192.31 L243.73 191.92 L244.31 191.73 L244.50 191.73 L245.08 191.92 L245.47 192.31 L245.67 193.08 L245.67 194.05 L245.47 195.02 L245.08 195.61 L244.50 195.80 L244.11 195.80 L243.53 195.61 L243.34 195.22 M247.22 192.70 L247.22 192.50 L247.41 192.11 L247.61 191.92 L247.99 191.73 L248.77 191.73 L249.16 191.92 L249.35 192.11 L249.55 192.50 L249.55 192.89 L249.35 193.28 L248.96 193.86 L247.02 195.80 L249.74 195.80" fill="none" stroke="#2a2a2a" stroke-width="0.6"/>
<circle cx="187.6" cy="198.4" r="3.1" fill="#000"/>
<path d="M191.28 194.83 L191.28 198.90 M193.99 194.83 L193.99 198.90 M191.28 196.77 L193.99 196.77 M195.54 194.83 L195.54 198.90 M195.54 194.83 L196.90 194.83 L197.48 195.02 L197.87 195.41 L198.07 195.80 L198.26 196.38 L198.26 197.35 L198.07 197.93 L197.87 198.32 L197.48 198.71 L196.90 198.90 L195.54 198.90 M200.01 195.60 L200.39 195.41 L200.98 194.83 L200.98 198.90 M203.89 195.60 L204.27 195.41 L204.86 194.83 L204.86 198.90 M209.51 194.83 L207.57 194.83 L207.38 196.57 L207.57 196.38 L208.15 196.18 L208.74 196.18 L209.32 196.38 L209.71 196.77 L209.90 197.35 L209.90 197.74 L209.71 198.32 L209.32 198.71 L208.74 198.90 L208.15 198.90 L207.57 198.71 L207.38 198.51 L207.18 198.12 M212.03 194.83 L211.45 195.02 L211.26 195.41 L211.26 195.80 L211.45 196.18 L211.84 196.38 L212.62 196.57 L213.20 196.77 L213.59 197.15 L213.78 197.54 L213.78 198.12 L213.59 198.51 L213.39 198.71 L212.81 198.90 L212.03 198.90 L211.45 198.71 L211.26 198.51 L211.06 198.12 L211.06 197.54 L211.26 197.15 L211.65 196.77 L212.23 196.57 L213.00 196.38 L213.39 196.18 L213.59 195.80 L213.59 195.41 L213.39 195.02 L212.81 194.83 L212.03 194.83 M217.47 196.18 L217.27 196.77 L216.88 197.15 L216.30 197.35 L216.11 197.35 L215.53 197.15 L215.14 196.77 L214.94 196.18 L214.94 195.99 L215.14 195.41 L215.53 195.02 L216.11 194.83 L216.30 194.83 L216.88 195.02 L217.27 195.41 L217.47 196.18 L217.47 197.15 L217.27 198.12 L216.88 198.71 L216.30 198.90 L215.91 198.90 L215.33 198.71 L215.14 198.32 M219.02 195.80 L219.02 195.60 L219.21 195.21 L219.41 195.02 L219.79 194.83 L220.57 194.83 L220.96 195.02 L221.15 195.21 L221.35 195.60 L221.35 195.99 L221.15 196.38 L220.76 196.96 L218.82 198.90 L221.54 198.90" fill="none" stroke="#2a2a2a" stroke-width="0.6"/>
<circle cx="197.2" cy="202.5" r="3.1" fill="#000"/>
<path d="M200.88 198.93 L200.88 203.00 M203.59 198.93 L203.59 203.00 M200.88 200.87 L203.59 200.87 M205.14 198.93 L205.14 203.00 M205.14 198.93 L206.50 198.93 L207.08 199.12 L207.47 199.51 L207.67 199.90 L207.86 200.48 L207.86 201.45 L207.67 202.03 L207.47 202.42 L207.08 202.81 L206.50 203.00 L205.14 203.00 M211.55 199.51 L211.35 199.12 L210.77 198.93 L210.38 198.93 L209.80 199.12 L209.41 199.70 L209.22 200.67 L209.22 201.64 L209.41 202.42 L209.80 202.81 L210.38 203.00 L210.58 203.00 L211.16 202.81 L211.55 202.42 L211.74 201.84 L211.74 201.64 L211.55 201.06 L211.16 200.67 L210.58 200.48 L210.38 200.48 L209.80 200.67 L209.41 201.06 L209.22 201.64 M215.62 198.93 L213.68 203.00 M212.90 198.93 L215.62 198.93 M219.31 200.28 L219.11 200.87 L218.72 201.25 L218.14 201.45 L217.95 201.45 L217.37 201.25 L216.98 200.87 L216.78 200.28 L216.78 200.09 L216.98 199.51 L217.37 199.12 L217.95 198.93 L218.14 198.93 L218.72 199.12 L219.11 199.51 L219.31 200.28 L219.31 201.25 L219.11 202.22 L218.72 202.81 L218.14 203.00 L217.75 203.00 L217.17 202.81 L216.98 202.42 M221.63 198.93 L221.05 199.12 L220.86 199.51 L220.86 199.90 L221.05 200.28 L221.44 200.48 L222.22 200.67 L222.80 200.87 L223.19 201.25 L223.38 201.64 L223.38 202.22 L223.19 202.61 L222.99 202.81 L222.41 203.00 L221.63 203.00 L221.05 202.81 L220.86 202.61 L220.66 202.22 L220.66 201.64 L220.86 201.25 L221.25 200.87 L221.83 200.67 L222.60 200.48 L222.99 200.28 L223.19 199.90 L223.19 199.51 L222.99 199.12 L222.41 198.93 L221.63 198.93" fill="none" stroke="#2a2a2a" stroke-width="0.6"/>
<circle cx="305.9" cy="199.8" r="3.1" fill="#000"/>
<path d="M309.58 196.23 L309.58 200.30 M312.29 196.23 L312.29 200.30 M309.58 198.17 L312.29 198.17 M313.84 196.23 L313.84 200.30 M313.84 196.23 L315.20 196.23 L315.78 196.42 L316.17 196.81 L316.37 197.20 L316.56 197.78 L316.56 198.75 L316.37 199.33 L316.17 199.72 L315.78 200.11 L315.20 200.30 L313.84 200.30 M318.31 197.00 L318.69 196.81 L319.28 196.23 L319.28 200.30 M323.54 196.23 L321.60 198.94 L324.51 198.94 M323.54 196.23 L323.54 200.30 M326.65 196.23 L326.07 196.42 L325.68 197.00 L325.48 197.97 L325.48 198.55 L325.68 199.52 L326.07 200.11 L326.65 200.30 L327.04 200.30 L327.62 200.11 L328.01 199.52 L328.20 198.55 L328.20 197.97 L328.01 197.00 L327.62 196.42 L327.04 196.23 L326.65 196.23 M331.69 196.23 L329.75 196.23 L329.56 197.97 L329.75 197.78 L330.33 197.58 L330.92 197.58 L331.50 197.78 L331.89 198.17 L332.08 198.75 L332.08 199.14 L331.89 199.72 L331.50 200.11 L330.92 200.30 L330.33 200.30 L329.75 200.11 L329.56 199.91 L329.36 199.52 M335.57 196.23 L333.63 196.23 L333.44 197.97 L333.63 197.78 L334.21 197.58 L334.80 197.58 L335.38 197.78 L335.77 198.17 L335.96 198.75 L335.96 199.14 L335.77 199.72 L335.38 200.11 L334.80 200.30 L334.21 200.30 L333.63 200.11 L333.44 199.91 L333.24 199.52" fill="none" stroke="#2a2a2a" stroke-width="0.6"/>
<circle cx="264.8" cy="201.6" r="3.1" fill="#000"/>
<path d="M268.48 198.03 L268.48 202.10 M271.19 198.03 L271.19 202.10 M268.48 199.97 L271.19 199.97 M272.74 198.03 L272.74 202.10 M272.74 198.03 L274.10 198.03 L274.68 198.22 L275.07 198.61 L275.27 199.00 L275.46 199.58 L275.46 200.55 L275.27 201.13 L275.07 201.52 L274.68 201.91 L274.10 202.10 L272.74 202.10 M279.34 198.03 L277.40 202.10 M276.62 198.03 L279.34 198.03 M281.09 198.80 L281.47 198.61 L282.06 198.03 L282.06 202.10 M284.97 198.80 L285.35 198.61 L285.94 198.03 L285.94 202.10 M290.59 198.03 L288.65 198.03 L288.46 199.77 L288.65 199.58 L289.23 199.38 L289.82 199.38 L290.40 199.58 L290.79 199.97 L290.98 200.55 L290.98 200.94 L290.79 201.52 L290.40 201.91 L289.82 202.10 L289.23 202.10 L288.65 201.91 L288.46 201.71 L288.26 201.32 M294.47 198.03 L292.53 198.03 L292.34 199.77 L292.53 199.58 L293.11 199.38 L293.70 199.38 L294.28 199.58 L294.67 199.97 L294.86 200.55 L294.86 200.94 L294.67 201.52 L294.28 201.91 L293.70 202.10 L293.11 202.10 L292.53 201.91 L292.34 201.71 L292.14 201.32" fill="none" stroke="#2a2a2a" stroke-width="0.6"/>
<circle cx="245.2" cy="207.1" r="3.1" fill="#000"/>
<path d="M248.88 203.53 L248.88 207.60 M251.59 203.53 L251.59 207.60 M248.88 205.47 L251.59 205.47 M253.14 203.53 L253.14 207.60 M253.14 203.53 L254.50 203.53 L255.08 203.72 L255.47 204.11 L255.67 204.50 L255.86 205.08 L255.86 206.05 L255.67 206.63 L255.47 207.02 L255.08 207.41 L254.50 207.60 L253.14 207.60 M257.41 203.53 L259.55 203.53 L258.38 205.08 L258.96 205.08 L259.35 205.27 L259.55 205.47 L259.74 206.05 L259.74 206.44 L259.55 207.02 L259.16 207.41 L258.58 207.60 L257.99 207.60 L257.41 207.41 L257.22 207.21 L257.02 206.82 M261.87 203.53 L261.29 203.72 L261.10 204.11 L261.10 204.50 L261.29 204.88 L261.68 205.08 L262.46 205.27 L263.04 205.47 L263.43 205.85 L263.62 206.24 L263.62 206.82 L263.43 207.21 L263.23 207.41 L262.65 207.60 L261.87 207.60 L261.29 207.41 L261.10 207.21 L260.90 206.82 L260.90 206.24 L261.10 205.85 L261.49 205.47 L262.07 205.27 L262.84 205.08 L263.23 204.88 L263.43 204.50 L263.43 204.11 L263.23 203.72 L262.65 203.53 L261.87 203.53 M264.98 204.50 L264.98 204.30 L265.17 203.91 L265.37 203.72 L265.75 203.53 L266.53 203.53 L266.92 203.72 L267.11 203.91 L267.31 204.30 L267.31 204.69 L267.11 205.08 L266.72 205.66 L264.78 207.60 L267.50 207.60 M269.83 203.53 L269.25 203.72 L268.86 204.30 L268.66 205.27 L268.66 205.85 L268.86 206.82 L269.25 207.41 L269.83 207.60 L270.22 207.60 L270.80 207.41 L271.19 206.82 L271.38 205.85 L271.38 205.27 L271.19 204.30 L270.80 203.72 L270.22 203.53 L269.83 203.53 M275.07 204.11 L274.87 203.72 L274.29 203.53 L273.90 203.53 L273.32 203.72 L272.93 204.30 L272.74 205.27 L272.74 206.24 L272.93 207.02 L273.32 207.41 L273.90 207.60 L274.10 207.60 L274.68 207.41 L275.07 207.02 L275.26 206.44 L275.26 206.24 L275.07 205.66 L274.68 205.27 L274.10 205.08 L273.90 205.08 L273.32 205.27 L272.93 205.66 L272.74 206.24" fill="none" stroke="#2a2a2a" stroke-width="0.6"/>
<circle cx="277.4" cy="207.1" r="3.1" fill="#000"/>
<path d="M281.08 203.53 L281.08 207.60 M283.79 203.53 L283.79 207.60 M281.08 205.47 L283.79 205.47 M285.34 203.53 L285.34 207.60 M285.34 203.53 L286.70 203.53 L287.28 203.72 L287.67 204.11 L287.87 204.50 L288.06 205.08 L288.06 206.05 L287.87 206.63 L287.67 207.02 L287.28 207.41 L286.70 207.60 L285.34 207.60 M289.81 204.30 L290.19 204.11 L290.78 203.53 L290.78 207.60 M293.30 204.50 L293.30 204.30 L293.49 203.91 L293.69 203.72 L294.07 203.53 L294.85 203.53 L295.24 203.72 L295.43 203.91 L295.63 204.30 L295.63 204.69 L295.43 205.08 L295.04 205.66 L293.10 207.60 L295.82 207.60 M299.31 203.53 L297.37 203.53 L297.18 205.27 L297.37 205.08 L297.95 204.88 L298.54 204.88 L299.12 205.08 L299.51 205.47 L299.70 206.05 L299.70 206.44 L299.51 207.02 L299.12 207.41 L298.54 207.60 L297.95 207.60 L297.37 207.41 L297.18 207.21 L296.98 206.82 M301.45 204.30 L301.83 204.11 L302.42 203.53 L302.42 207.60 M307.27 204.11 L307.07 203.72 L306.49 203.53 L306.10 203.53 L305.52 203.72 L305.13 204.30 L304.94 205.27 L304.94 206.24 L305.13 207.02 L305.52 207.41 L306.10 207.60 L306.30 207.60 L306.88 207.41 L307.27 207.02 L307.46 206.44 L307.46 206.24 L307.27 205.66 L306.88 205.27 L306.30 205.08 L306.10 205.08 L305.52 205.27 L305.13 205.66 L304.94 206.24 M308.82 204.50 L308.82 204.30 L309.01 203.91 L309.21 203.72 L309.59 203.53 L310.37 203.53 L310.76 203.72 L310.95 203.91 L311.15 204.30 L311.15 204.69 L310.95 205.08 L310.56 205.66 L308.62 207.60 L311.34 207.60" fill="none" stroke="#2a2a2a" stroke-width="0.6"/>
<circle cx="141.5" cy="210.6" r="3.1" fill="#000"/>
<path d="M145.18 207.03 L145.18 211.10 M147.89 207.03 L147.89 211.10 M145.18 208.97 L147.89 208.97 M149.44 207.03 L149.44 211.10 M149.44 207.03 L150.80 207.03 L151.38 207.22 L151.77 207.61 L151.97 208.00 L152.16 208.58 L152.16 209.55 L151.97 210.13 L151.77 210.52 L151.38 210.91 L150.80 211.10 L149.44 211.10 M156.04 207.03 L154.10 211.10 M153.32 207.03 L156.04 207.03 M159.53 207.03 L157.59 207.03 L157.40 208.77 L157.59 208.58 L158.17 208.38 L158.76 208.38 L159.34 208.58 L159.73 208.97 L159.92 209.55 L159.92 209.94 L159.73 210.52 L159.34 210.91 L158.76 211.10 L158.17 211.10 L157.59 210.91 L157.40 210.71 L157.20 210.32 M163.02 207.03 L161.08 209.74 L163.99 209.74 M163.02 207.03 L163.02 211.10 M165.55 207.80 L165.93 207.61 L166.52 207.03 L166.52 211.10 M171.37 207.61 L171.17 207.22 L170.59 207.03 L170.20 207.03 L169.62 207.22 L169.23 207.80 L169.04 208.77 L169.04 209.74 L169.23 210.52 L169.62 210.91 L170.20 211.10 L170.40 211.10 L170.98 210.91 L171.37 210.52 L171.56 209.94 L171.56 209.74 L171.37 209.16 L170.98 208.77 L170.40 208.58 L170.20 208.58 L169.62 208.77 L169.23 209.16 L169.04 209.74" fill="none" stroke="#2a2a2a" stroke-width="0.6"/>
<circle cx="166.2" cy="209.6" r="3.1" fill="#000"/>
<path d="M169.88 206.03 L169.88 210.10 M172.59 206.03 L172.59 210.10 M169.88 207.97 L172.59 207.97 M174.14 206.03 L174.14 210.10 M174.14 206.03 L175.50 206.03 L176.08 206.22 L176.47 206.61 L176.67 207.00 L176.86 207.58 L176.86 208.55 L176.67 209.13 L176.47 209.52 L176.08 209.91 L175.50 210.10 L174.14 210.10 M178.99 206.03 L178.41 206.22 L178.22 206.61 L178.22 207.00 L178.41 207.38 L178.80 207.58 L179.58 207.77 L180.16 207.97 L180.55 208.35 L180.74 208.74 L180.74 209.32 L180.55 209.71 L180.35 209.91 L179.77 210.10 L178.99 210.10 L178.41 209.91 L178.22 209.71 L178.02 209.32 L178.02 208.74 L178.22 208.35 L178.61 207.97 L179.19 207.77 L179.96 207.58 L180.35 207.38 L180.55 207.00 L180.55 206.61 L180.35 206.22 L179.77 206.03 L178.99 206.03 M183.07 206.03 L182.49 206.22 L182.10 206.80 L181.90 207.77 L181.90 208.35 L182.10 209.32 L182.49 209.91 L183.07 210.10 L183.46 210.10 L184.04 209.91 L184.43 209.32 L184.62 208.35 L184.62 207.77 L184.43 206.80 L184.04 206.22 L183.46 206.03 L183.07 206.03 M188.31 207.38 L188.11 207.97 L187.72 208.35 L187.14 208.55 L186.95 208.55 L186.37 208.35 L185.98 207.97 L185.78 207.38 L185.78 207.19 L185.98 206.61 L186.37 206.22 L186.95 206.03 L187.14 206.03 L187.72 206.22 L188.11 206.61 L188.31 207.38 L188.31 208.35 L188.11 209.32 L187.72 209.91 L187.14 210.10 L186.75 210.10 L186.17 209.91 L185.98 209.52 M191.99 206.03 L190.05 206.03 L189.86 207.77 L190.05 207.58 L190.63 207.38 L191.22 207.38 L191.80 207.58 L192.19 207.97 L192.38 208.55 L192.38 208.94 L192.19 209.52 L191.80 209.91 L191.22 210.10 L190.63 210.10 L190.05 209.91 L189.86 209.71 L189.66 209.32 M194.71 206.03 L194.13 206.22 L193.74 206.80 L193.54 207.77 L193.54 208.35 L193.74 209.32 L194.13 209.91 L194.71 210.10 L195.10 210.10 L195.68 209.91 L196.07 209.32 L196.26 208.35 L196.26 207.77 L196.07 206.80 L195.68 206.22 L195.10 206.03 L194.71 206.03" fill="none" stroke="#2a2a2a" stroke-width="0.6"/>
<circle cx="204.0" cy="214.4" r="3.1" fill="#000"/>
<path d="M207.68 210.83 L207.68 214.90 M210.39 210.83 L210.39 214.90 M207.68 212.77 L210.39 212.77 M211.94 210.83 L211.94 214.90 M211.94 210.83 L213.30 210.83 L213.88 211.02 L214.27 211.41 L214.47 211.80 L214.66 212.38 L214.66 213.35 L214.47 213.93 L214.27 214.32 L213.88 214.71 L213.30 214.90 L211.94 214.90 M216.41 211.60 L216.79 211.41 L217.38 210.83 L217.38 214.90 M220.67 210.83 L220.09 211.02 L219.90 211.41 L219.90 211.80 L220.09 212.18 L220.48 212.38 L221.26 212.57 L221.84 212.77 L222.23 213.15 L222.42 213.54 L222.42 214.12 L222.23 214.51 L222.03 214.71 L221.45 214.90 L220.67 214.90 L220.09 214.71 L219.90 214.51 L219.70 214.12 L219.70 213.54 L219.90 213.15 L220.29 212.77 L220.87 212.57 L221.64 212.38 L222.03 212.18 L222.23 211.80 L222.23 211.41 L222.03 211.02 L221.45 210.83 L220.67 210.83 M226.11 212.18 L225.91 212.77 L225.52 213.15 L224.94 213.35 L224.75 213.35 L224.17 213.15 L223.78 212.77 L223.58 212.18 L223.58 211.99 L223.78 211.41 L224.17 211.02 L224.75 210.83 L224.94 210.83 L225.52 211.02 L225.91 211.41 L226.11 212.18 L226.11 213.15 L225.91 214.12 L225.52 214.71 L224.94 214.90 L224.55 214.90 L223.97 214.71 L223.78 214.32 M230.18 210.83 L228.24 214.90 M227.46 210.83 L230.18 210.83 M232.31 210.83 L231.73 211.02 L231.54 211.41 L231.54 211.80 L231.73 212.18 L232.12 212.38 L232.90 212.57 L233.48 212.77 L233.87 213.15 L234.06 213.54 L234.06 214.12 L233.87 214.51 L233.67 214.71 L233.09 214.90 L232.31 214.90 L231.73 214.71 L231.54 214.51 L231.34 214.12 L231.34 213.54 L231.54 213.15 L231.93 212.77 L232.51 212.57 L233.28 212.38 L233.67 212.18 L233.87 211.80 L233.87 211.41 L233.67 211.02 L233.09 210.83 L232.31 210.83" fill="none" stroke="#2a2a2a" stroke-width="0.6"/>
<circle cx="228.2" cy="220.4" r="3.1" fill="#000"/>
<path d="M231.88 216.83 L231.88 220.90 M234.59 216.83 L234.59 220.90 M231.88 218.77 L234.59 218.77 M236.14 216.83 L236.14 220.90 M236.14 216.83 L237.50 216.83 L238.08 217.02 L238.47 217.41 L238.67 217.80 L238.86 218.38 L238.86 219.35 L238.67 219.93 L238.47 220.32 L238.08 220.71 L237.50 220.90 L236.14 220.90 M242.55 218.18 L242.35 218.77 L241.96 219.15 L241.38 219.35 L241.19 219.35 L240.61 219.15 L240.22 218.77 L240.02 218.18 L240.02 217.99 L240.22 217.41 L240.61 217.02 L241.19 216.83 L241.38 216.83 L241.96 217.02 L242.35 217.41 L242.55 218.18 L242.55 219.15 L242.35 220.12 L241.96 220.71 L241.38 220.90 L240.99 220.90 L240.41 220.71 L240.22 220.32 M246.62 216.83 L244.68 220.90 M243.90 216.83 L246.62 216.83 M250.31 217.41 L250.11 217.02 L249.53 216.83 L249.14 216.83 L248.56 217.02 L248.17 217.60 L247.98 218.57 L247.98 219.54 L248.17 220.32 L248.56 220.71 L249.14 220.90 L249.34 220.90 L249.92 220.71 L250.31 220.32 L250.50 219.74 L250.50 219.54 L250.31 218.96 L249.92 218.57 L249.34 218.38 L249.14 218.38 L248.56 218.57 L248.17 218.96 L247.98 219.54 M252.05 216.83 L254.19 216.83 L253.02 218.38 L253.60 218.38 L253.99 218.57 L254.19 218.77 L254.38 219.35 L254.38 219.74 L254.19 220.32 L253.80 220.71 L253.22 220.90 L252.63 220.90 L252.05 220.71 L251.86 220.51 L251.66 220.12 M255.93 216.83 L258.07 216.83 L256.90 218.38 L257.48 218.38 L257.87 218.57 L258.07 218.77 L258.26 219.35 L258.26 219.74 L258.07 220.32 L257.68 220.71 L257.10 220.90 L256.51 220.90 L255.93 220.71 L255.74 220.51 L255.54 220.12" fill="none" stroke="#2a2a2a" stroke-width="0.6"/>
<circle cx="278.1" cy="224.0" r="3.1" fill="#000"/>
<path d="M281.78 220.43 L281.78 224.50 M284.49 220.43 L284.49 224.50 M281.78 222.37 L284.49 222.37 M286.04 220.43 L286.04 224.50 M286.04 220.43 L287.40 220.43 L287.98 220.62 L288.37 221.01 L288.57 221.40 L288.76 221.98 L288.76 222.95 L288.57 223.53 L288.37 223.92 L287.98 224.31 L287.40 224.50 L286.04 224.50 M290.51 221.20 L290.89 221.01 L291.48 220.43 L291.48 224.50 M294.39 221.20 L294.77 221.01 L295.36 220.43 L295.36 224.50 M298.85 220.43 L298.27 220.62 L297.88 221.20 L297.68 222.17 L297.68 222.75 L297.88 223.72 L298.27 224.31 L298.85 224.50 L299.24 224.50 L299.82 224.31 L300.21 223.72 L300.40 222.75 L300.40 222.17 L300.21 221.20 L299.82 220.62 L299.24 220.43 L298.85 220.43 M303.50 220.43 L301.56 223.14 L304.47 223.14 M303.50 220.43 L303.50 224.50 M306.03 221.20 L306.41 221.01 L307.00 220.43 L307.00 224.50 M309.91 221.20 L310.29 221.01 L310.88 220.43 L310.88 224.50" fill="none" stroke="#2a2a2a" stroke-width="0.6"/>
<circle cx="183.1" cy="227.2" r="3.1" fill="#000"/>
<path d="M186.78 223.63 L186.78 227.70 M189.49 223.63 L189.49 227.70 M186.78 225.57 L189.49 225.57 M191.04 223.63 L191.04 227.70 M191.04 223.63 L192.40 223.63 L192.98 223.82 L193.37 224.21 L193.57 224.60 L193.76 225.18 L193.76 226.15 L193.57 226.73 L193.37 227.12 L192.98 227.51 L192.40 227.70 L191.04 227.70 M197.45 224.98 L197.25 225.57 L196.86 225.95 L196.28 226.15 L196.09 226.15 L195.51 225.95 L195.12 225.57 L194.92 224.98 L194.92 224.79 L195.12 224.21 L195.51 223.82 L196.09 223.63 L196.28 223.63 L196.86 223.82 L197.25 224.21 L197.45 224.98 L197.45 225.95 L197.25 226.92 L196.86 227.51 L196.28 227.70 L195.89 227.70 L195.31 227.51 L195.12 227.12 M201.13 223.63 L199.19 223.63 L199.00 225.37 L199.19 225.18 L199.77 224.98 L200.36 224.98 L200.94 225.18 L201.33 225.57 L201.52 226.15 L201.52 226.54 L201.33 227.12 L200.94 227.51 L200.36 227.70 L199.77 227.70 L199.19 227.51 L199.00 227.31 L198.80 226.92 M203.85 223.63 L203.27 223.82 L202.88 224.40 L202.68 225.37 L202.68 225.95 L202.88 226.92 L203.27 227.51 L203.85 227.70 L204.24 227.70 L204.82 227.51 L205.21 226.92 L205.40 225.95 L205.40 225.37 L205.21 224.40 L204.82 223.82 L204.24 223.63 L203.85 223.63 M207.53 223.63 L206.95 223.82 L206.76 224.21 L206.76 224.60 L206.95 224.98 L207.34 225.18 L208.12 225.37 L208.70 225.57 L209.09 225.95 L209.28 226.34 L209.28 226.92 L209.09 227.31 L208.89 227.51 L208.31 227.70 L207.53 227.70 L206.95 227.51 L206.76 227.31 L206.56 226.92 L206.56 226.34 L206.76 225.95 L207.15 225.57 L207.73 225.37 L208.50 225.18 L208.89 224.98 L209.09 224.60 L209.09 224.21 L208.89 223.82 L208.31 223.63 L207.53 223.63 M212.97 224.21 L212.77 223.82 L212.19 223.63 L211.80 223.63 L211.22 223.82 L210.83 224.40 L210.64 225.37 L210.64 226.34 L210.83 227.12 L211.22 227.51 L211.80 227.70 L212.00 227.70 L212.58 227.51 L212.97 227.12 L213.16 226.54 L213.16 226.34 L212.97 225.76 L212.58 225.37 L212.00 225.18 L211.80 225.18 L211.22 225.37 L210.83 225.76 L210.64 226.34" fill="none" stroke="#2a2a2a" stroke-width="0.6"/>
<circle cx="303.3" cy="234.3" r="3.1" fill="#000"/>
<path d="M306.98 230.73 L306.98 234.80 M309.69 230.73 L309.69 234.80 M306.98 232.67 L309.69 232.67 M311.24 230.73 L311.24 234.80 M311.24 230.73 L312.60 230.73 L313.18 230.92 L313.57 231.31 L313.77 231.70 L313.96 232.28 L313.96 233.25 L313.77 233.83 L313.57 234.22 L313.18 234.61 L312.60 234.80 L311.24 234.80 M315.51 230.73 L317.65 230.73 L316.48 232.28 L317.06 232.28 L317.45 232.47 L317.65 232.67 L317.84 233.25 L317.84 233.64 L317.65 234.22 L317.26 234.61 L316.68 234.80 L316.09 234.80 L315.51 234.61 L315.32 234.41 L315.12 234.02 M319.59 231.50 L319.97 231.31 L320.56 230.73 L320.56 234.80 M323.08 231.70 L323.08 231.50 L323.27 231.11 L323.47 230.92 L323.85 230.73 L324.63 230.73 L325.02 230.92 L325.21 231.11 L325.41 231.50 L325.41 231.89 L325.21 232.28 L324.82 232.86 L322.88 234.80 L325.60 234.80 M329.29 232.08 L329.09 232.67 L328.70 233.05 L328.12 233.25 L327.93 233.25 L327.35 233.05 L326.96 232.67 L326.76 232.08 L326.76 231.89 L326.96 231.31 L327.35 230.92 L327.93 230.73 L328.12 230.73 L328.70 230.92 L329.09 231.31 L329.29 232.08 L329.29 233.05 L329.09 234.02 L328.70 234.61 L328.12 234.80 L327.73 234.80 L327.15 234.61 L326.96 234.22 M332.97 230.73 L331.03 230.73 L330.84 232.47 L331.03 232.28 L331.61 232.08 L332.20 232.08 L332.78 232.28 L333.17 232.67 L333.36 233.25 L333.36 233.64 L333.17 234.22 L332.78 234.61 L332.20 234.80 L331.61 234.80 L331.03 234.61 L330.84 234.41 L330.64 234.02" fill="none" stroke="#2a2a2a" stroke-width="0.6"/>
<circle cx="232.8" cy="235.9" r="3.1" fill="#000"/>
<path d="M236.48 232.33 L236.48 236.40 M239.19 232.33 L239.19 236.40 M236.48 234.27 L239.19 234.27 M240.74 232.33 L240.74 236.40 M240.74 232.33 L242.10 232.33 L242.68 232.52 L243.07 232.91 L243.27 233.30 L243.46 233.88 L243.46 234.85 L243.27 235.43 L243.07 235.82 L242.68 236.21 L242.10 236.40 L240.74 236.40 M244.82 233.30 L244.82 233.10 L245.01 232.71 L245.21 232.52 L245.59 232.33 L246.37 232.33 L246.76 232.52 L246.95 232.71 L247.15 233.10 L247.15 233.49 L246.95 233.88 L246.56 234.46 L244.62 236.40 L247.34 236.40 M249.09 233.10 L249.47 232.91 L250.06 232.33 L250.06 236.40 M254.91 233.68 L254.71 234.27 L254.32 234.65 L253.74 234.85 L253.55 234.85 L252.97 234.65 L252.58 234.27 L252.38 233.68 L252.38 233.49 L252.58 232.91 L252.97 232.52 L253.55 232.33 L253.74 232.33 L254.32 232.52 L254.71 232.91 L254.91 233.68 L254.91 234.65 L254.71 235.62 L254.32 236.21 L253.74 236.40 L253.35 236.40 L252.77 236.21 L252.58 235.82 M258.79 233.68 L258.59 234.27 L258.20 234.65 L257.62 234.85 L257.43 234.85 L256.85 234.65 L256.46 234.27 L256.26 233.68 L256.26 233.49 L256.46 232.91 L256.85 232.52 L257.43 232.33 L257.62 232.33 L258.20 232.52 L258.59 232.91 L258.79 233.68 L258.79 234.65 L258.59 235.62 L258.20 236.21 L257.62 236.40 L257.23 236.40 L256.65 236.21 L256.46 235.82 M262.86 232.33 L260.92 236.40 M260.14 232.33 L262.86 232.33" fill="none" stroke="#2a2a2a" stroke-width="0.6"/>
<circle cx="224.8" cy="238.9" r="3.1" fill="#000"/>
<path d="M228.48 235.33 L228.48 239.40 M231.19 235.33 L231.19 239.40 M228.48 237.27 L231.19 237.27 M232.74 235.33 L232.74 239.40 M232.74 235.33 L234.10 235.33 L234.68 235.52 L235.07 235.91 L235.27 236.30 L235.46 236.88 L235.46 237.85 L235.27 238.43 L235.07 238.82 L234.68 239.21 L234.10 239.40 L232.74 239.40 M237.21 236.10 L237.59 235.91 L238.18 235.33 L238.18 239.40 M241.67 235.33 L241.09 235.52 L240.70 236.10 L240.50 237.07 L240.50 237.65 L240.70 238.62 L241.09 239.21 L241.67 239.40 L242.06 239.40 L242.64 239.21 L243.03 238.62 L243.22 237.65 L243.22 237.07 L243.03 236.10 L242.64 235.52 L242.06 235.33 L241.67 235.33 M246.91 235.91 L246.71 235.52 L246.13 235.33 L245.74 235.33 L245.16 235.52 L244.77 236.10 L244.58 237.07 L244.58 238.04 L244.77 238.82 L245.16 239.21 L245.74 239.40 L245.94 239.40 L246.52 239.21 L246.91 238.82 L247.10 238.24 L247.10 238.04 L246.91 237.46 L246.52 237.07 L245.94 236.88 L245.74 236.88 L245.16 237.07 L244.77 237.46 L244.58 238.04 M250.59 235.33 L248.65 235.33 L248.46 237.07 L248.65 236.88 L249.23 236.68 L249.82 236.68 L250.40 236.88 L250.79 237.27 L250.98 237.85 L250.98 238.24 L250.79 238.82 L250.40 239.21 L249.82 239.40 L249.23 239.40 L248.65 239.21 L248.46 239.01 L248.26 238.62 M254.67 236.68 L254.47 237.27 L254.08 237.65 L253.50 237.85 L253.31 237.85 L252.73 237.65 L252.34 237.27 L252.14 236.68 L252.14 236.49 L252.34 235.91 L252.73 235.52 L253.31 235.33 L253.50 235.33 L254.08 235.52 L254.47 235.91 L254.67 236.68 L254.67 237.65 L254.47 238.62 L254.08 239.21 L253.50 239.40 L253.11 239.40 L252.53 239.21 L252.34 238.82 M256.61 236.10 L256.99 235.91 L257.58 235.33 L257.58 239.40" fill="none" stroke="#2a2a2a" stroke-width="0.6"/>
<circle cx="254.8" cy="242.0" r="3.1" fill="#000"/>
<path d="M258.48 238.43 L258.48 242.50 M261.19 238.43 L261.19 242.50 M258.48 240.37 L261.19 240.37 M262.74 238.43 L262.74 242.50 M262.74 238.43 L264.10 238.43 L264.68 238.62 L265.07 239.01 L265.27 239.40 L265.46 239.98 L265.46 240.95 L265.27 241.53 L265.07 241.92 L264.68 242.31 L264.10 242.50 L262.74 242.50 M266.82 239.40 L266.82 239.20 L267.01 238.81 L267.21 238.62 L267.59 238.43 L268.37 238.43 L268.76 238.62 L268.95 238.81 L269.15 239.20 L269.15 239.59 L268.95 239.98 L268.56 240.56 L266.62 242.50 L269.34 242.50 M271.47 238.43 L270.89 238.62 L270.70 239.01 L270.70 239.40 L270.89 239.78 L271.28 239.98 L272.06 240.17 L272.64 240.37 L273.03 240.75 L273.22 241.14 L273.22 241.72 L273.03 242.11 L272.83 242.31 L272.25 242.50 L271.47 242.50 L270.89 242.31 L270.70 242.11 L270.50 241.72 L270.50 241.14 L270.70 240.75 L271.09 240.37 L271.67 240.17 L272.44 239.98 L272.83 239.78 L273.03 239.40 L273.03 239.01 L272.83 238.62 L272.25 238.43 L271.47 238.43 M274.77 238.43 L276.91 238.43 L275.74 239.98 L276.32 239.98 L276.71 240.17 L276.91 240.37 L277.10 240.95 L277.10 241.34 L276.91 241.92 L276.52 242.31 L275.94 242.50 L275.35 242.50 L274.77 242.31 L274.58 242.11 L274.38 241.72 M280.59 238.43 L278.65 238.43 L278.46 240.17 L278.65 239.98 L279.23 239.78 L279.82 239.78 L280.40 239.98 L280.79 240.37 L280.98 240.95 L280.98 241.34 L280.79 241.92 L280.40 242.31 L279.82 242.50 L279.23 242.50 L278.65 242.31 L278.46 242.11 L278.26 241.72 M284.47 238.43 L282.53 238.43 L282.34 240.17 L282.53 239.98 L283.11 239.78 L283.70 239.78 L284.28 239.98 L284.67 240.37 L284.86 240.95 L284.86 241.34 L284.67 241.92 L284.28 242.31 L283.70 242.50 L283.11 242.50 L282.53 242.31 L282.34 242.11 L282.14 241.72" fill="none" stroke="#2a2a2a" stroke-width="0.6"/>
<circle cx="198.4" cy="243.0" r="3.1" fill="#000"/>
<path d="M202.08 239.43 L202.08 243.50 M204.79 239.43 L204.79 243.50 M202.08 241.37 L204.79 241.37 M206.34 239.43 L206.34 243.50 M206.34 239.43 L207.70 239.43 L208.28 239.62 L208.67 240.01 L208.87 240.40 L209.06 240.98 L209.06 241.95 L208.87 242.53 L208.67 242.92 L208.28 243.31 L207.70 243.50 L206.34 243.50 M210.81 240.20 L211.19 240.01 L211.78 239.43 L211.78 243.50 M216.43 239.43 L214.49 239.43 L214.30 241.17 L214.49 240.98 L215.07 240.78 L215.66 240.78 L216.24 240.98 L216.63 241.37 L216.82 241.95 L216.82 242.34 L216.63 242.92 L216.24 243.31 L215.66 243.50 L215.07 243.50 L214.49 243.31 L214.30 243.11 L214.10 242.72 M218.37 239.43 L220.51 239.43 L219.34 240.98 L219.92 240.98 L220.31 241.17 L220.51 241.37 L220.70 241.95 L220.70 242.34 L220.51 242.92 L220.12 243.31 L219.54 243.50 L218.95 243.50 L218.37 243.31 L218.18 243.11 L217.98 242.72 M223.03 239.43 L222.45 239.62 L222.06 240.20 L221.86 241.17 L221.86 241.75 L222.06 242.72 L222.45 243.31 L223.03 243.50 L223.42 243.50 L224.00 243.31 L224.39 242.72 L224.58 241.75 L224.58 241.17 L224.39 240.20 L224.00 239.62 L223.42 239.43 L223.03 239.43 M228.07 239.43 L226.13 239.43 L225.94 241.17 L226.13 240.98 L226.71 240.78 L227.30 240.78 L227.88 240.98 L228.27 241.37 L228.46 241.95 L228.46 242.34 L228.27 242.92 L227.88 243.31 L227.30 243.50 L226.71 243.50 L226.13 243.31 L225.94 243.11 L225.74 242.72 M230.01 239.43 L232.15 239.43 L230.98 240.98 L231.56 240.98 L231.95 241.17 L232.15 241.37 L232.34 241.95 L232.34 242.34 L232.15 242.92 L231.76 243.31 L231.18 243.50 L230.59 243.50 L230.01 243.31 L229.82 243.11 L229.62 242.72" fill="none" stroke="#2a2a2a" stroke-width="0.6"/>
<circle cx="233.2" cy="247.1" r="3.1" fill="#000"/>
<path d="M236.88 243.53 L236.88 247.60 M239.59 243.53 L239.59 247.60 M236.88 245.47 L239.59 245.47 M241.14 243.53 L241.14 247.60 M241.14 243.53 L242.50 243.53 L243.08 243.72 L243.47 244.11 L243.67 244.50 L243.86 245.08 L243.86 246.05 L243.67 246.63 L243.47 247.02 L243.08 247.41 L242.50 247.60 L241.14 247.60 M247.74 243.53 L245.80 247.60 M245.02 243.53 L247.74 243.53 M249.49 244.30 L249.87 244.11 L250.46 243.53 L250.46 247.60 M253.95 243.53 L253.37 243.72 L252.98 244.30 L252.78 245.27 L252.78 245.85 L252.98 246.82 L253.37 247.41 L253.95 247.60 L254.34 247.60 L254.92 247.41 L255.31 246.82 L255.50 245.85 L255.50 245.27 L255.31 244.30 L254.92 243.72 L254.34 243.53 L253.95 243.53 M258.60 243.53 L256.66 246.24 L259.57 246.24 M258.60 243.53 L258.60 247.60 M260.93 243.53 L263.07 243.53 L261.90 245.08 L262.48 245.08 L262.87 245.27 L263.07 245.47 L263.26 246.05 L263.26 246.44 L263.07 247.02 L262.68 247.41 L262.10 247.60 L261.51 247.60 L260.93 247.41 L260.74 247.21 L260.54 246.82" fill="none" stroke="#2a2a2a" stroke-width="0.6"/>
<circle cx="229.5" cy="257.9" r="3.1" fill="#000"/>
<path d="M233.18 254.33 L233.18 258.40 M235.89 254.33 L235.89 258.40 M233.18 256.27 L235.89 256.27 M237.44 254.33 L237.44 258.40 M237.44 254.33 L238.80 254.33 L239.38 254.52 L239.77 254.91 L239.97 255.30 L240.16 255.88 L240.16 256.85 L239.97 257.43 L239.77 257.82 L239.38 258.21 L238.80 258.40 L237.44 258.40 M244.04 254.33 L242.10 258.40 M241.32 254.33 L244.04 254.33 M247.73 255.68 L247.53 256.27 L247.14 256.65 L246.56 256.85 L246.37 256.85 L245.79 256.65 L245.40 256.27 L245.20 255.68 L245.20 255.49 L245.40 254.91 L245.79 254.52 L246.37 254.33 L246.56 254.33 L247.14 254.52 L247.53 254.91 L247.73 255.68 L247.73 256.65 L247.53 257.62 L247.14 258.21 L246.56 258.40 L246.17 258.40 L245.59 258.21 L245.40 257.82 M249.67 255.10 L250.05 254.91 L250.64 254.33 L250.64 258.40 M254.13 254.33 L253.55 254.52 L253.16 255.10 L252.96 256.07 L252.96 256.65 L253.16 257.62 L253.55 258.21 L254.13 258.40 L254.52 258.40 L255.10 258.21 L255.49 257.62 L255.68 256.65 L255.68 256.07 L255.49 255.10 L255.10 254.52 L254.52 254.33 L254.13 254.33 M257.81 254.33 L257.23 254.52 L257.04 254.91 L257.04 255.30 L257.23 255.68 L257.62 255.88 L258.40 256.07 L258.98 256.27 L259.37 256.65 L259.56 257.04 L259.56 257.62 L259.37 258.01 L259.17 258.21 L258.59 258.40 L257.81 258.40 L257.23 258.21 L257.04 258.01 L256.84 257.62 L256.84 257.04 L257.04 256.65 L257.43 256.27 L258.01 256.07 L258.78 255.88 L259.17 255.68 L259.37 255.30 L259.37 254.91 L259.17 254.52 L258.59 254.33 L257.81 254.33" fill="none" stroke="#2a2a2a" stroke-width="0.6"/>
<circle cx="171.3" cy="261.4" r="3.1" fill="#000"/>
<path d="M174.98 257.83 L174.98 261.90 M177.69 257.83 L177.69 261.90 M174.98 259.77 L177.69 259.77 M179.24 257.83 L179.24 261.90 M179.24 257.83 L180.60 257.83 L181.18 258.02 L181.57 258.41 L181.77 258.80 L181.96 259.38 L181.96 260.35 L181.77 260.93 L181.57 261.32 L181.18 261.71 L180.60 261.90 L179.24 261.90 M183.71 258.60 L184.09 258.41 L184.68 257.83 L184.68 261.90 M188.17 257.83 L187.59 258.02 L187.20 258.60 L187.00 259.57 L187.00 260.15 L187.20 261.12 L187.59 261.71 L188.17 261.90 L188.56 261.90 L189.14 261.71 L189.53 261.12 L189.72 260.15 L189.72 259.57 L189.53 258.60 L189.14 258.02 L188.56 257.83 L188.17 257.83 M193.41 259.18 L193.21 259.77 L192.82 260.15 L192.24 260.35 L192.05 260.35 L191.47 260.15 L191.08 259.77 L190.88 259.18 L190.88 258.99 L191.08 258.41 L191.47 258.02 L192.05 257.83 L192.24 257.83 L192.82 258.02 L193.21 258.41 L193.41 259.18 L193.41 260.15 L193.21 261.12 L192.82 261.71 L192.24 261.90 L191.85 261.90 L191.27 261.71 L191.08 261.32 M195.35 258.60 L195.73 258.41 L196.32 257.83 L196.32 261.90 M200.97 257.83 L199.03 257.83 L198.84 259.57 L199.03 259.38 L199.61 259.18 L200.20 259.18 L200.78 259.38 L201.17 259.77 L201.36 260.35 L201.36 260.74 L201.17 261.32 L200.78 261.71 L200.20 261.90 L199.61 261.90 L199.03 261.71 L198.84 261.51 L198.64 261.12 M203.69 257.83 L203.11 258.02 L202.72 258.60 L202.52 259.57 L202.52 260.15 L202.72 261.12 L203.11 261.71 L203.69 261.90 L204.08 261.90 L204.66 261.71 L205.05 261.12 L205.24 260.15 L205.24 259.57 L205.05 258.60 L204.66 258.02 L204.08 257.83 L203.69 257.83" fill="none" stroke="#2a2a2a" stroke-width="0.6"/>
<circle cx="179.7" cy="262.1" r="3.1" fill="#000"/>
<path d="M183.38 258.53 L183.38 262.60 M186.09 258.53 L186.09 262.60 M183.38 260.47 L186.09 260.47 M187.64 258.53 L187.64 262.60 M187.64 258.53 L189.00 258.53 L189.58 258.72 L189.97 259.11 L190.17 259.50 L190.36 260.08 L190.36 261.05 L190.17 261.63 L189.97 262.02 L189.58 262.41 L189.00 262.60 L187.64 262.60 M194.05 259.88 L193.85 260.47 L193.46 260.85 L192.88 261.05 L192.69 261.05 L192.11 260.85 L191.72 260.47 L191.52 259.88 L191.52 259.69 L191.72 259.11 L192.11 258.72 L192.69 258.53 L192.88 258.53 L193.46 258.72 L193.85 259.11 L194.05 259.88 L194.05 260.85 L193.85 261.82 L193.46 262.41 L192.88 262.60 L192.49 262.60 L191.91 262.41 L191.72 262.02 M195.99 259.30 L196.37 259.11 L196.96 258.53 L196.96 262.60 M201.61 258.53 L199.67 258.53 L199.48 260.27 L199.67 260.08 L200.25 259.88 L200.84 259.88 L201.42 260.08 L201.81 260.47 L202.00 261.05 L202.00 261.44 L201.81 262.02 L201.42 262.41 L200.84 262.60 L200.25 262.60 L199.67 262.41 L199.48 262.21 L199.28 261.82 M204.13 258.53 L203.55 258.72 L203.36 259.11 L203.36 259.50 L203.55 259.88 L203.94 260.08 L204.72 260.27 L205.30 260.47 L205.69 260.85 L205.88 261.24 L205.88 261.82 L205.69 262.21 L205.49 262.41 L204.91 262.60 L204.13 262.60 L203.55 262.41 L203.36 262.21 L203.16 261.82 L203.16 261.24 L203.36 260.85 L203.75 260.47 L204.33 260.27 L205.10 260.08 L205.49 259.88 L205.69 259.50 L205.69 259.11 L205.49 258.72 L204.91 258.53 L204.13 258.53 M208.01 258.53 L207.43 258.72 L207.24 259.11 L207.24 259.50 L207.43 259.88 L207.82 260.08 L208.60 260.27 L209.18 260.47 L209.57 260.85 L209.76 261.24 L209.76 261.82 L209.57 262.21 L209.37 262.41 L208.79 262.60 L208.01 262.60 L207.43 262.41 L207.24 262.21 L207.04 261.82 L207.04 261.24 L207.24 260.85 L207.63 260.47 L208.21 260.27 L208.98 260.08 L209.37 259.88 L209.57 259.50 L209.57 259.11 L209.37 258.72 L208.79 258.53 L208.01 258.53 M211.12 259.50 L211.12 259.30 L211.31 258.91 L211.51 258.72 L211.89 258.53 L212.67 258.53 L213.06 258.72 L213.25 258.91 L213.45 259.30 L213.45 259.69 L213.25 260.08 L212.86 260.66 L210.92 262.60 L213.64 262.60" fill="none" stroke="#2a2a2a" stroke-width="0.6"/>
<circle cx="266.2" cy="263.4" r="3.1" fill="#000"/>
<path d="M269.88 259.83 L269.88 263.90 M272.59 259.83 L272.59 263.90 M269.88 261.77 L272.59 261.77 M274.14 259.83 L274.14 263.90 M274.14 259.83 L275.50 259.83 L276.08 260.02 L276.47 260.41 L276.67 260.80 L276.86 261.38 L276.86 262.35 L276.67 262.93 L276.47 263.32 L276.08 263.71 L275.50 263.90 L274.14 263.90 M278.22 260.80 L278.22 260.60 L278.41 260.21 L278.61 260.02 L278.99 259.83 L279.77 259.83 L280.16 260.02 L280.35 260.21 L280.55 260.60 L280.55 260.99 L280.35 261.38 L279.96 261.96 L278.02 263.90 L280.74 263.90 M282.10 260.80 L282.10 260.60 L282.29 260.21 L282.49 260.02 L282.87 259.83 L283.65 259.83 L284.04 260.02 L284.23 260.21 L284.43 260.60 L284.43 260.99 L284.23 261.38 L283.84 261.96 L281.90 263.90 L284.62 263.90 M288.31 260.41 L288.11 260.02 L287.53 259.83 L287.14 259.83 L286.56 260.02 L286.17 260.60 L285.98 261.57 L285.98 262.54 L286.17 263.32 L286.56 263.71 L287.14 263.90 L287.34 263.90 L287.92 263.71 L288.31 263.32 L288.50 262.74 L288.50 262.54 L288.31 261.96 L287.92 261.57 L287.34 261.38 L287.14 261.38 L286.56 261.57 L286.17 261.96 L285.98 262.54 M289.86 260.80 L289.86 260.60 L290.05 260.21 L290.25 260.02 L290.63 259.83 L291.41 259.83 L291.80 260.02 L291.99 260.21 L292.19 260.60 L292.19 260.99 L291.99 261.38 L291.60 261.96 L289.66 263.90 L292.38 263.90" fill="none" stroke="#2a2a2a" stroke-width="0.6"/>
<circle cx="206.1" cy="266.4" r="3.1" fill="#000"/>
<path d="M209.78 262.83 L209.78 266.90 M212.49 262.83 L212.49 266.90 M209.78 264.77 L212.49 264.77 M214.04 262.83 L214.04 266.90 M214.04 262.83 L215.40 262.83 L215.98 263.02 L216.37 263.41 L216.57 263.80 L216.76 264.38 L216.76 265.35 L216.57 265.93 L216.37 266.32 L215.98 266.71 L215.40 266.90 L214.04 266.90 M218.31 262.83 L220.45 262.83 L219.28 264.38 L219.86 264.38 L220.25 264.57 L220.45 264.77 L220.64 265.35 L220.64 265.74 L220.45 266.32 L220.06 266.71 L219.48 266.90 L218.89 266.90 L218.31 266.71 L218.12 266.51 L217.92 266.12 M222.77 262.83 L222.19 263.02 L222.00 263.41 L222.00 263.80 L222.19 264.18 L222.58 264.38 L223.36 264.57 L223.94 264.77 L224.33 265.15 L224.52 265.54 L224.52 266.12 L224.33 266.51 L224.13 266.71 L223.55 266.90 L222.77 266.90 L222.19 266.71 L222.00 266.51 L221.80 266.12 L221.80 265.54 L222.00 265.15 L222.39 264.77 L222.97 264.57 L223.74 264.38 L224.13 264.18 L224.33 263.80 L224.33 263.41 L224.13 263.02 L223.55 262.83 L222.77 262.83 M226.85 262.83 L226.27 263.02 L225.88 263.60 L225.68 264.57 L225.68 265.15 L225.88 266.12 L226.27 266.71 L226.85 266.90 L227.24 266.90 L227.82 266.71 L228.21 266.12 L228.40 265.15 L228.40 264.57 L228.21 263.60 L227.82 263.02 L227.24 262.83 L226.85 262.83 M231.89 262.83 L229.95 262.83 L229.76 264.57 L229.95 264.38 L230.53 264.18 L231.12 264.18 L231.70 264.38 L232.09 264.77 L232.28 265.35 L232.28 265.74 L232.09 266.32 L231.70 266.71 L231.12 266.90 L230.53 266.90 L229.95 266.71 L229.76 266.51 L229.56 266.12 M235.97 263.41 L235.77 263.02 L235.19 262.83 L234.80 262.83 L234.22 263.02 L233.83 263.60 L233.64 264.57 L233.64 265.54 L233.83 266.32 L234.22 266.71 L234.80 266.90 L235.00 266.90 L235.58 266.71 L235.97 266.32 L236.16 265.74 L236.16 265.54 L235.97 264.96 L235.58 264.57 L235.00 264.38 L234.80 264.38 L234.22 264.57 L233.83 264.96 L233.64 265.54" fill="none" stroke="#2a2a2a" stroke-width="0.6"/>
<circle cx="239.0" cy="266.7" r="3.1" fill="#000"/>
<path d="M242.68 263.13 L242.68 267.20 M245.39 263.13 L245.39 267.20 M242.68 265.07 L245.39 265.07 M246.94 263.13 L246.94 267.20 M246.94 263.13 L248.30 263.13 L248.88 263.32 L249.27 263.71 L249.47 264.10 L249.66 264.68 L249.66 265.65 L249.47 266.23 L249.27 266.62 L248.88 267.01 L248.30 267.20 L246.94 267.20 M251.41 263.90 L251.79 263.71 L252.38 263.13 L252.38 267.20 M255.29 263.90 L255.67 263.71 L256.26 263.13 L256.26 267.20 M259.17 263.90 L259.55 263.71 L260.14 263.13 L260.14 267.20 M265.18 263.13 L263.24 267.20 M262.46 263.13 L265.18 263.13 M267.31 263.13 L266.73 263.32 L266.54 263.71 L266.54 264.10 L266.73 264.48 L267.12 264.68 L267.90 264.87 L268.48 265.07 L268.87 265.45 L269.06 265.84 L269.06 266.42 L268.87 266.81 L268.67 267.01 L268.09 267.20 L267.31 267.20 L266.73 267.01 L266.54 266.81 L266.34 266.42 L266.34 265.84 L266.54 265.45 L266.93 265.07 L267.51 264.87 L268.28 264.68 L268.67 264.48 L268.87 264.10 L268.87 263.71 L268.67 263.32 L268.09 263.13 L267.31 263.13 M272.75 263.71 L272.55 263.32 L271.97 263.13 L271.58 263.13 L271.00 263.32 L270.61 263.90 L270.42 264.87 L270.42 265.84 L270.61 266.62 L271.00 267.01 L271.58 267.20 L271.78 267.20 L272.36 267.01 L272.75 266.62 L272.94 266.04 L272.94 265.84 L272.75 265.26 L272.36 264.87 L271.78 264.68 L271.58 264.68 L271.00 264.87 L270.61 265.26 L270.42 265.84" fill="none" stroke="#2a2a2a" stroke-width="0.6"/>
<circle cx="228.3" cy="270.0" r="3.1" fill="#000"/>
<path d="M231.98 266.43 L231.98 270.50 M234.69 266.43 L234.69 270.50 M231.98 268.37 L234.69 268.37 M236.24 266.43 L236.24 270.50 M236.24 266.43 L237.60 266.43 L238.18 266.62 L238.57 267.01 L238.77 267.40 L238.96 267.98 L238.96 268.95 L238.77 269.53 L238.57 269.92 L238.18 270.31 L237.60 270.50 L236.24 270.50 M240.32 267.40 L240.32 267.20 L240.51 266.81 L240.71 266.62 L241.09 266.43 L241.87 266.43 L242.26 266.62 L242.45 266.81 L242.65 267.20 L242.65 267.59 L242.45 267.98 L242.06 268.56 L240.12 270.50 L242.84 270.50 M246.72 266.43 L244.78 270.50 M244.00 266.43 L246.72 266.43 M250.60 266.43 L248.66 270.50 M247.88 266.43 L250.60 266.43 M251.96 267.40 L251.96 267.20 L252.15 266.81 L252.35 266.62 L252.73 266.43 L253.51 266.43 L253.90 266.62 L254.09 266.81 L254.29 267.20 L254.29 267.59 L254.09 267.98 L253.70 268.56 L251.76 270.50 L254.48 270.50" fill="none" stroke="#2a2a2a" stroke-width="0.6"/>
<circle cx="234.8" cy="276.9" r="3.1" fill="#000"/>
<path d="M238.48 273.33 L238.48 277.40 M241.19 273.33 L241.19 277.40 M238.48 275.27 L241.19 275.27 M242.74 273.33 L242.74 277.40 M242.74 273.33 L244.10 273.33 L244.68 273.52 L245.07 273.91 L245.27 274.30 L245.46 274.88 L245.46 275.85 L245.27 276.43 L245.07 276.82 L244.68 277.21 L244.10 277.40 L242.74 277.40 M246.82 274.30 L246.82 274.10 L247.01 273.71 L247.21 273.52 L247.59 273.33 L248.37 273.33 L248.76 273.52 L248.95 273.71 L249.15 274.10 L249.15 274.49 L248.95 274.88 L248.56 275.46 L246.62 277.40 L249.34 277.40 M250.70 274.30 L250.70 274.10 L250.89 273.71 L251.09 273.52 L251.47 273.33 L252.25 273.33 L252.64 273.52 L252.83 273.71 L253.03 274.10 L253.03 274.49 L252.83 274.88 L252.44 275.46 L250.50 277.40 L253.22 277.40 M256.71 273.33 L254.77 273.33 L254.58 275.07 L254.77 274.88 L255.35 274.68 L255.94 274.68 L256.52 274.88 L256.91 275.27 L257.10 275.85 L257.10 276.24 L256.91 276.82 L256.52 277.21 L255.94 277.40 L255.35 277.40 L254.77 277.21 L254.58 277.01 L254.38 276.62 M258.46 274.30 L258.46 274.10 L258.65 273.71 L258.85 273.52 L259.23 273.33 L260.01 273.33 L260.40 273.52 L260.59 273.71 L260.79 274.10 L260.79 274.49 L260.59 274.88 L260.20 275.46 L258.26 277.40 L260.98 277.40 M263.31 273.33 L262.73 273.52 L262.34 274.10 L262.14 275.07 L262.14 275.65 L262.34 276.62 L262.73 277.21 L263.31 277.40 L263.70 277.40 L264.28 277.21 L264.67 276.62 L264.86 275.65 L264.86 275.07 L264.67 274.10 L264.28 273.52 L263.70 273.33 L263.31 273.33 M267.19 273.33 L266.61 273.52 L266.22 274.10 L266.02 275.07 L266.02 275.65 L266.22 276.62 L266.61 277.21 L267.19 277.40 L267.58 277.40 L268.16 277.21 L268.55 276.62 L268.74 275.65 L268.74 275.07 L268.55 274.10 L268.16 273.52 L267.58 273.33 L267.19 273.33" fill="none" stroke="#2a2a2a" stroke-width="0.6"/>
<circle cx="239.3" cy="278.4" r="3.1" fill="#000"/>
<path d="M242.98 274.83 L242.98 278.90 M245.69 274.83 L245.69 278.90 M242.98 276.77 L245.69 276.77 M247.24 274.83 L247.24 278.90 M247.24 274.83 L248.60 274.83 L249.18 275.02 L249.57 275.41 L249.77 275.80 L249.96 276.38 L249.96 277.35 L249.77 277.93 L249.57 278.32 L249.18 278.71 L248.60 278.90 L247.24 278.90 M251.32 275.80 L251.32 275.60 L251.51 275.21 L251.71 275.02 L252.09 274.83 L252.87 274.83 L253.26 275.02 L253.45 275.21 L253.65 275.60 L253.65 275.99 L253.45 276.38 L253.06 276.96 L251.12 278.90 L253.84 278.90 M257.72 274.83 L255.78 278.90 M255.00 274.83 L257.72 274.83 M260.05 274.83 L259.47 275.02 L259.08 275.60 L258.88 276.57 L258.88 277.15 L259.08 278.12 L259.47 278.71 L260.05 278.90 L260.44 278.90 L261.02 278.71 L261.41 278.12 L261.60 277.15 L261.60 276.57 L261.41 275.60 L261.02 275.02 L260.44 274.83 L260.05 274.83 M264.70 274.83 L262.76 277.54 L265.67 277.54 M264.70 274.83 L264.70 278.90 M268.97 274.83 L267.03 274.83 L266.84 276.57 L267.03 276.38 L267.61 276.18 L268.20 276.18 L268.78 276.38 L269.17 276.77 L269.36 277.35 L269.36 277.74 L269.17 278.32 L268.78 278.71 L268.20 278.90 L267.61 278.90 L267.03 278.71 L266.84 278.51 L266.64 278.12" fill="none" stroke="#2a2a2a" stroke-width="0.6"/>
<circle cx="231.5" cy="286.0" r="3.1" fill="#000"/>
<path d="M235.18 282.43 L235.18 286.50 M237.89 282.43 L237.89 286.50 M235.18 284.37 L237.89 284.37 M239.44 282.43 L239.44 286.50 M239.44 282.43 L240.80 282.43 L241.38 282.62 L241.77 283.01 L241.97 283.40 L242.16 283.98 L242.16 284.95 L241.97 285.53 L241.77 285.92 L241.38 286.31 L240.80 286.50 L239.44 286.50 M243.52 283.40 L243.52 283.20 L243.71 282.81 L243.91 282.62 L244.29 282.43 L245.07 282.43 L245.46 282.62 L245.65 282.81 L245.85 283.20 L245.85 283.59 L245.65 283.98 L245.26 284.56 L243.32 286.50 L246.04 286.50 M247.40 283.40 L247.40 283.20 L247.59 282.81 L247.79 282.62 L248.17 282.43 L248.95 282.43 L249.34 282.62 L249.53 282.81 L249.73 283.20 L249.73 283.59 L249.53 283.98 L249.14 284.56 L247.20 286.50 L249.92 286.50 M251.67 283.20 L252.05 283.01 L252.64 282.43 L252.64 286.50 M257.68 282.43 L255.74 286.50 M254.96 282.43 L257.68 282.43 M261.17 282.43 L259.23 282.43 L259.04 284.17 L259.23 283.98 L259.81 283.78 L260.40 283.78 L260.98 283.98 L261.37 284.37 L261.56 284.95 L261.56 285.34 L261.37 285.92 L260.98 286.31 L260.40 286.50 L259.81 286.50 L259.23 286.31 L259.04 286.11 L258.84 285.72 M265.25 283.01 L265.05 282.62 L264.47 282.43 L264.08 282.43 L263.50 282.62 L263.11 283.20 L262.92 284.17 L262.92 285.14 L263.11 285.92 L263.50 286.31 L264.08 286.50 L264.28 286.50 L264.86 286.31 L265.25 285.92 L265.44 285.34 L265.44 285.14 L265.25 284.56 L264.86 284.17 L264.28 283.98 L264.08 283.98 L263.50 284.17 L263.11 284.56 L262.92 285.14" fill="none" stroke="#2a2a2a" stroke-width="0.6"/>
</g>
<circle cx="186.7" cy="291.4" r="3" fill="#000" clip-path="url(#c)"/>
<g stroke="#ff0000" fill="none" stroke-width="0.85" stroke-linecap="round" stroke-linejoin="round">
<path d="M269.3 37.0 L316.5 42.6"/>
<path d="M313.40 42.60 h6.20 M316.50 39.50 v6.20 M313.40 39.50 l6.20 6.20 M313.40 45.70 l6.20 -6.20" stroke-width="0.8"/>
<circle cx="269.3" cy="37.0" r="3.2" fill="#ff0000" stroke="none"/>
<path d="M236.86 40.75 L236.86 46.10 M240.43 40.75 L240.43 46.10 M236.86 43.30 L240.43 43.30 M242.47 40.75 L242.47 46.10 M242.47 40.75 L244.25 40.75 L245.02 41.00 L245.53 41.51 L245.78 42.02 L246.03 42.79 L246.03 44.06 L245.78 44.83 L245.53 45.34 L245.02 45.84 L244.25 46.10 L242.47 46.10 M248.08 40.75 L250.88 40.75 L249.35 42.79 L250.12 42.79 L250.62 43.04 L250.88 43.30 L251.14 44.06 L251.14 44.57 L250.88 45.34 L250.37 45.84 L249.61 46.10 L248.84 46.10 L248.08 45.84 L247.82 45.59 L247.56 45.08 M255.98 42.53 L255.72 43.30 L255.22 43.80 L254.45 44.06 L254.19 44.06 L253.43 43.80 L252.92 43.30 L252.67 42.53 L252.67 42.27 L252.92 41.51 L253.43 41.00 L254.19 40.75 L254.45 40.75 L255.22 41.00 L255.72 41.51 L255.98 42.53 L255.98 43.80 L255.72 45.08 L255.22 45.84 L254.45 46.10 L253.94 46.10 L253.18 45.84 L252.92 45.34 M259.30 40.75 L258.53 41.00 L258.02 41.77 L257.76 43.04 L257.76 43.80 L258.02 45.08 L258.53 45.84 L259.30 46.10 L259.81 46.10 L260.57 45.84 L261.08 45.08 L261.33 43.80 L261.33 43.04 L261.08 41.77 L260.57 41.00 L259.81 40.75 L259.30 40.75 M266.18 41.51 L265.93 41.00 L265.16 40.75 L264.65 40.75 L263.88 41.00 L263.38 41.77 L263.12 43.04 L263.12 44.31 L263.38 45.34 L263.88 45.84 L264.65 46.10 L264.91 46.10 L265.67 45.84 L266.18 45.34 L266.44 44.57 L266.44 44.31 L266.18 43.55 L265.67 43.04 L264.91 42.79 L264.65 42.79 L263.88 43.04 L263.38 43.55 L263.12 44.31 M269.50 40.75 L268.73 41.00 L268.22 41.77 L267.97 43.04 L267.97 43.80 L268.22 45.08 L268.73 45.84 L269.50 46.10 L270.00 46.10 L270.77 45.84 L271.28 45.08 L271.54 43.80 L271.54 43.04 L271.28 41.77 L270.77 41.00 L270.00 40.75 L269.50 40.75" stroke-width="0.95"/>
<path d="M428.8 107.3 L410.1 101.2"/>
<path d="M407.00 101.20 h6.20 M410.10 98.10 v6.20 M407.00 98.10 l6.20 6.20 M407.00 104.30 l6.20 -6.20" stroke-width="0.8"/>
<circle cx="428.8" cy="107.3" r="3.2" fill="#ff0000" stroke="none"/>
<path d="M391.25 111.04 L391.25 116.40 M394.83 111.04 L394.83 116.40 M391.25 113.59 L394.83 113.59 M396.87 111.04 L396.87 116.40 M396.87 111.04 L398.65 111.04 L399.42 111.30 L399.93 111.81 L400.18 112.32 L400.44 113.08 L400.44 114.36 L400.18 115.12 L399.93 115.63 L399.42 116.14 L398.65 116.40 L396.87 116.40 M402.73 112.06 L403.24 111.81 L404.00 111.04 L404.00 116.40 M410.63 111.04 L408.09 116.40 M407.06 111.04 L410.63 111.04 M412.42 112.32 L412.42 112.06 L412.68 111.55 L412.93 111.30 L413.44 111.04 L414.46 111.04 L414.97 111.30 L415.23 111.55 L415.48 112.06 L415.48 112.57 L415.23 113.08 L414.72 113.85 L412.17 116.40 L415.74 116.40 M418.03 112.06 L418.54 111.81 L419.31 111.04 L419.31 116.40 M425.68 111.81 L425.43 111.30 L424.66 111.04 L424.15 111.04 L423.38 111.30 L422.88 112.06 L422.62 113.34 L422.62 114.61 L422.88 115.63 L423.38 116.14 L424.15 116.40 L424.41 116.40 L425.17 116.14 L425.68 115.63 L425.94 114.87 L425.94 114.61 L425.68 113.85 L425.17 113.34 L424.41 113.08 L424.15 113.08 L423.38 113.34 L422.88 113.85 L422.62 114.61 M431.04 111.04 L428.49 116.40 M427.47 111.04 L431.04 111.04" stroke-width="0.95"/>
<path d="M395.2 118.8 L449.0 130.0"/>
<path d="M445.90 130.00 h6.20 M449.00 126.90 v6.20 M445.90 126.90 l6.20 6.20 M445.90 133.10 l6.20 -6.20" stroke-width="0.8"/>
<circle cx="395.2" cy="118.8" r="3.2" fill="#ff0000" stroke="none"/>
<path d="M357.65 122.54 L357.65 127.90 M361.23 122.54 L361.23 127.90 M357.65 125.09 L361.23 125.09 M363.26 122.54 L363.26 127.90 M363.26 122.54 L365.05 122.54 L365.81 122.80 L366.32 123.31 L366.58 123.82 L366.83 124.58 L366.83 125.86 L366.58 126.62 L366.32 127.13 L365.81 127.64 L365.05 127.90 L363.26 127.90 M368.62 123.82 L368.62 123.56 L368.88 123.05 L369.13 122.80 L369.64 122.54 L370.66 122.54 L371.17 122.80 L371.43 123.05 L371.68 123.56 L371.68 124.07 L371.43 124.58 L370.91 125.35 L368.37 127.90 L371.94 127.90 M374.23 123.56 L374.74 123.31 L375.50 122.54 L375.50 127.90 M381.88 123.31 L381.62 122.80 L380.86 122.54 L380.35 122.54 L379.58 122.80 L379.07 123.56 L378.82 124.84 L378.82 126.11 L379.07 127.13 L379.58 127.64 L380.35 127.90 L380.61 127.90 L381.37 127.64 L381.88 127.13 L382.13 126.37 L382.13 126.11 L381.88 125.35 L381.37 124.84 L380.61 124.58 L380.35 124.58 L379.58 124.84 L379.07 125.35 L378.82 126.11 M386.98 124.33 L386.72 125.09 L386.21 125.60 L385.45 125.86 L385.19 125.86 L384.43 125.60 L383.92 125.09 L383.66 124.33 L383.66 124.07 L383.92 123.31 L384.43 122.80 L385.19 122.54 L385.45 122.54 L386.21 122.80 L386.72 123.31 L386.98 124.33 L386.98 125.60 L386.72 126.88 L386.21 127.64 L385.45 127.90 L384.94 127.90 L384.18 127.64 L383.92 127.13 M391.82 122.54 L389.27 122.54 L389.02 124.84 L389.27 124.58 L390.04 124.33 L390.81 124.33 L391.57 124.58 L392.08 125.09 L392.33 125.86 L392.33 126.37 L392.08 127.13 L391.57 127.64 L390.81 127.90 L390.04 127.90 L389.27 127.64 L389.02 127.39 L388.76 126.88 M397.18 123.31 L396.93 122.80 L396.16 122.54 L395.65 122.54 L394.88 122.80 L394.38 123.56 L394.12 124.84 L394.12 126.11 L394.38 127.13 L394.88 127.64 L395.65 127.90 L395.90 127.90 L396.67 127.64 L397.18 127.13 L397.44 126.37 L397.44 126.11 L397.18 125.35 L396.67 124.84 L395.90 124.58 L395.65 124.58 L394.88 124.84 L394.38 125.35 L394.12 126.11" stroke-width="0.95"/>
</g>
<g fill="none" stroke="#2a2a2a" stroke-width="0.85" stroke-linecap="round" stroke-linejoin="round">
<path d="M97.85 303.42 L96.41 303.90 L95.45 305.34 L94.97 307.74 L94.97 309.18 L95.45 311.58 L96.41 313.02 L97.85 313.50 L98.81 313.50 L100.25 313.02 L101.21 311.58 L101.69 309.18 L101.69 307.74 L101.21 305.34 L100.25 303.90 L98.81 303.42 L97.85 303.42 M105.53 312.54 L105.05 313.02 L105.53 313.50 L106.01 313.02 L105.53 312.54 M110.81 305.34 L111.77 304.86 L113.21 303.42 L113.21 313.50"/>
<path d="M245.34 305.34 L246.30 304.86 L247.74 303.42 L247.74 313.50 M254.46 312.54 L253.98 313.02 L254.46 313.50 L254.94 313.02 L254.46 312.54 M261.18 303.42 L259.74 303.90 L258.78 305.34 L258.30 307.74 L258.30 309.18 L258.78 311.58 L259.74 313.02 L261.18 313.50 L262.14 313.50 L263.58 313.02 L264.54 311.58 L265.02 309.18 L265.02 307.74 L264.54 305.34 L263.58 303.90 L262.14 303.42 L261.18 303.42"/>
<path d="M389.47 305.34 L390.43 304.86 L391.87 303.42 L391.87 313.50 M400.51 303.42 L399.07 303.90 L398.11 305.34 L397.63 307.74 L397.63 309.18 L398.11 311.58 L399.07 313.02 L400.51 313.50 L401.47 313.50 L402.91 313.02 L403.87 311.58 L404.35 309.18 L404.35 307.74 L403.87 305.34 L402.91 303.90 L401.47 303.42 L400.51 303.42 M408.19 312.54 L407.71 313.02 L408.19 313.50 L408.67 313.02 L408.19 312.54 M414.91 303.42 L413.47 303.90 L412.51 305.34 L412.03 307.74 L412.03 309.18 L412.51 311.58 L413.47 313.02 L414.91 313.50 L415.87 313.50 L417.31 313.02 L418.27 311.58 L418.75 309.18 L418.75 307.74 L418.27 305.34 L417.31 303.90 L415.87 303.42 L414.91 303.42"/>
<path d="M46.68 30.84 L47.64 30.36 L49.08 28.92 L49.08 39.00 M57.72 28.92 L56.28 29.40 L55.32 30.84 L54.84 33.24 L54.84 34.68 L55.32 37.08 L56.28 38.52 L57.72 39.00 L58.68 39.00 L60.12 38.52 L61.08 37.08 L61.56 34.68 L61.56 33.24 L61.08 30.84 L60.12 29.40 L58.68 28.92 L57.72 28.92 M65.40 38.04 L64.92 38.52 L65.40 39.00 L65.88 38.52 L65.40 38.04 M72.12 28.92 L70.68 29.40 L69.72 30.84 L69.24 33.24 L69.24 34.68 L69.72 37.08 L70.68 38.52 L72.12 39.00 L73.08 39.00 L74.52 38.52 L75.48 37.08 L75.96 34.68 L75.96 33.24 L75.48 30.84 L74.52 29.40 L73.08 28.92 L72.12 28.92 M81.72 28.92 L80.28 29.40 L79.32 30.84 L78.84 33.24 L78.84 34.68 L79.32 37.08 L80.28 38.52 L81.72 39.00 L82.68 39.00 L84.12 38.52 L85.08 37.08 L85.56 34.68 L85.56 33.24 L85.08 30.84 L84.12 29.40 L82.68 28.92 L81.72 28.92"/>
<path d="M56.28 114.16 L57.24 113.68 L58.68 112.24 L58.68 122.32 M65.40 121.36 L64.92 121.84 L65.40 122.32 L65.88 121.84 L65.40 121.36 M72.12 112.24 L70.68 112.72 L69.72 114.16 L69.24 116.56 L69.24 118.00 L69.72 120.40 L70.68 121.84 L72.12 122.32 L73.08 122.32 L74.52 121.84 L75.48 120.40 L75.96 118.00 L75.96 116.56 L75.48 114.16 L74.52 112.72 L73.08 112.24 L72.12 112.24 M81.72 112.24 L80.28 112.72 L79.32 114.16 L78.84 116.56 L78.84 118.00 L79.32 120.40 L80.28 121.84 L81.72 122.32 L82.68 122.32 L84.12 121.84 L85.08 120.40 L85.56 118.00 L85.56 116.56 L85.08 114.16 L84.12 112.72 L82.68 112.24 L81.72 112.24"/>
<path d="M57.72 199.75 L56.28 200.23 L55.32 201.67 L54.84 204.07 L54.84 205.51 L55.32 207.91 L56.28 209.35 L57.72 209.83 L58.68 209.83 L60.12 209.35 L61.08 207.91 L61.56 205.51 L61.56 204.07 L61.08 201.67 L60.12 200.23 L58.68 199.75 L57.72 199.75 M65.40 208.87 L64.92 209.35 L65.40 209.83 L65.88 209.35 L65.40 208.87 M70.68 201.67 L71.64 201.19 L73.08 199.75 L73.08 209.83 M81.72 199.75 L80.28 200.23 L79.32 201.67 L78.84 204.07 L78.84 205.51 L79.32 207.91 L80.28 209.35 L81.72 209.83 L82.68 209.83 L84.12 209.35 L85.08 207.91 L85.56 205.51 L85.56 204.07 L85.08 201.67 L84.12 200.23 L82.68 199.75 L81.72 199.75"/>
<path d="M57.72 281.92 L56.28 282.40 L55.32 283.84 L54.84 286.24 L54.84 287.68 L55.32 290.08 L56.28 291.52 L57.72 292.00 L58.68 292.00 L60.12 291.52 L61.08 290.08 L61.56 287.68 L61.56 286.24 L61.08 283.84 L60.12 282.40 L58.68 281.92 L57.72 281.92 M65.40 291.04 L64.92 291.52 L65.40 292.00 L65.88 291.52 L65.40 291.04 M72.12 281.92 L70.68 282.40 L69.72 283.84 L69.24 286.24 L69.24 287.68 L69.72 290.08 L70.68 291.52 L72.12 292.00 L73.08 292.00 L74.52 291.52 L75.48 290.08 L75.96 287.68 L75.96 286.24 L75.48 283.84 L74.52 282.40 L73.08 281.92 L72.12 281.92 M80.28 283.84 L81.24 283.36 L82.68 281.92 L82.68 292.00"/>
<path d="M245.52 326.28 L245.52 333.00 M245.52 329.16 L246.00 327.72 L246.96 326.76 L247.92 326.28 L249.36 326.28 M252.72 332.52 L252.24 333.00 L251.76 332.52 L252.24 332.04 L252.72 332.52 L252.72 333.48 L252.24 334.44 L251.76 334.92 M269.51 326.28 L269.51 333.00 M269.51 327.72 L268.56 326.76 L267.60 326.28 L266.16 326.28 L265.19 326.76 L264.24 327.72 L263.75 329.16 L263.75 330.12 L264.24 331.56 L265.19 332.52 L266.16 333.00 L267.60 333.00 L268.56 332.52 L269.51 331.56 M273.36 326.28 L273.36 333.00 M273.36 329.16 L273.84 327.72 L274.80 326.76 L275.75 326.28 L277.19 326.28 M284.88 327.72 L283.92 326.76 L282.96 326.28 L281.51 326.28 L280.56 326.76 L279.60 327.72 L279.12 329.16 L279.12 330.12 L279.60 331.56 L280.56 332.52 L281.51 333.00 L282.96 333.00 L283.92 332.52 L284.88 331.56 M293.04 327.72 L292.56 326.76 L291.12 326.28 L289.68 326.28 L288.24 326.76 L287.75 327.72 L288.24 328.68 L289.19 329.16 L291.60 329.64 L292.56 330.12 L293.04 331.08 L293.04 331.56 L292.56 332.52 L291.12 333.00 L289.68 333.00 L288.24 332.52 L287.75 331.56 M295.92 329.16 L301.68 329.16 L301.68 328.20 L301.19 327.24 L300.72 326.76 L299.75 326.28 L298.31 326.28 L297.36 326.76 L296.40 327.72 L295.92 329.16 L295.92 330.12 L296.40 331.56 L297.36 332.52 L298.31 333.00 L299.75 333.00 L300.72 332.52 L301.68 331.56 M310.31 327.72 L309.36 326.76 L308.40 326.28 L306.96 326.28 L306.00 326.76 L305.04 327.72 L304.56 329.16 L304.56 330.12 L305.04 331.56 L306.00 332.52 L306.96 333.00 L308.40 333.00 L309.36 332.52 L310.31 331.56"/>
<path d="M409.62 47.52 L409.62 47.04 L410.10 46.08 L410.58 45.60 L411.54 45.12 L413.46 45.12 L414.42 45.60 L414.90 46.08 L415.38 47.04 L415.38 48.00 L414.90 48.96 L413.94 50.40 L409.14 55.20 L415.86 55.20 M424.50 45.12 L419.70 45.12 L419.22 49.44 L419.70 48.96 L421.14 48.48 L422.58 48.48 L424.02 48.96 L424.98 49.92 L425.46 51.36 L425.46 52.32 L424.98 53.76 L424.02 54.72 L422.58 55.20 L421.14 55.20 L419.70 54.72 L419.22 54.24 L418.74 53.28 M430.26 48.48 L427.38 58.56 M429.78 50.40 L429.30 52.80 L429.30 54.24 L430.26 55.20 L431.22 55.20 L432.18 54.72 L433.14 53.76 L434.10 51.84 M435.06 48.48 L434.10 51.84 L433.62 53.76 L433.62 54.72 L434.10 55.20 L435.06 55.20 L436.02 54.24 L436.50 53.28 M438.90 48.48 L438.90 55.20 M438.90 50.40 L440.34 48.96 L441.30 48.48 L442.74 48.48 L443.70 48.96 L444.18 50.40 L444.18 55.20 M444.18 50.40 L445.62 48.96 L446.58 48.48 L448.02 48.48 L448.98 48.96 L449.46 50.40 L449.46 55.20"/>
<path d="M19.82 186.48 L29.90 186.48 M19.82 186.48 L19.82 180.24 M24.62 186.48 L24.62 182.64"/>
<path d="M28.15 175.30 L34.40 175.30 M31.13 175.30 L30.53 175.89 L30.23 176.49 L30.23 177.38 L30.53 177.97 L31.13 178.57 L32.02 178.87 L32.61 178.87 L33.51 178.57 L34.10 177.97 L34.40 177.38 L34.40 176.49 L34.10 175.89 L33.51 175.30 M28.15 173.21 L28.45 172.92 L28.15 172.62 L27.85 172.92 L28.15 173.21 M30.23 172.92 L34.40 172.92 M31.13 167.56 L30.53 167.86 L30.23 168.75 L30.23 169.64 L30.53 170.53 L31.13 170.83 L31.72 170.53 L32.02 169.94 L32.32 168.45 L32.61 167.86 L33.21 167.56 L33.51 167.56 L34.10 167.86 L34.40 168.75 L34.40 169.64 L34.10 170.53 L33.51 170.83 M31.13 162.20 L30.53 162.80 L30.23 163.39 L30.23 164.28 L30.53 164.88 L31.13 165.48 L32.02 165.77 L32.61 165.77 L33.51 165.48 L34.10 164.88 L34.40 164.28 L34.40 163.39 L34.10 162.80 L33.51 162.20"/>
<path d="M29.42 158.43 L29.90 158.91 L29.42 159.39 L28.94 158.91 L29.42 158.43 L30.38 158.43 L31.34 158.91 L31.82 159.39 M19.82 143.07 L27.50 143.07 L28.94 143.55 L29.42 144.03 L29.90 144.99 L29.90 145.95 L29.42 146.91 L28.94 147.39 L27.50 147.87 L26.54 147.87 M23.18 140.19 L29.90 137.31 M23.18 134.43 L29.90 137.31 L31.82 138.27 L32.78 139.23 L33.26 140.19 L33.26 140.67"/>
</g>
<rect x="335.1" y="227.5" width="120.8" height="52.6" fill="#fff" stroke="#666" stroke-width="1.25"/>
<path d="M339.94 233.98 L339.94 239.40 M339.94 233.98 L343.29 233.98 M339.94 236.56 L342.00 236.56 M347.42 235.79 L347.42 239.40 M347.42 236.56 L346.90 236.05 L346.39 235.79 L345.61 235.79 L345.10 236.05 L344.58 236.56 L344.32 237.34 L344.32 237.85 L344.58 238.63 L345.10 239.14 L345.61 239.40 L346.39 239.40 L346.90 239.14 L347.42 238.63 M352.32 236.56 L351.80 236.05 L351.29 235.79 L350.51 235.79 L350.00 236.05 L349.48 236.56 L349.22 237.34 L349.22 237.85 L349.48 238.63 L350.00 239.14 L350.51 239.40 L351.29 239.40 L351.80 239.14 L352.32 238.63 M353.87 237.34 L356.96 237.34 L356.96 236.82 L356.71 236.30 L356.45 236.05 L355.93 235.79 L355.16 235.79 L354.64 236.05 L354.13 236.56 L353.87 237.34 L353.87 237.85 L354.13 238.63 L354.64 239.14 L355.16 239.40 L355.93 239.40 L356.45 239.14 L356.96 238.63 M358.77 237.08 L363.41 237.08 M366.51 235.79 L365.99 236.05 L365.48 236.56 L365.22 237.34 L365.22 237.85 L365.48 238.63 L365.99 239.14 L366.51 239.40 L367.28 239.40 L367.80 239.14 L368.32 238.63 L368.57 237.85 L368.57 237.34 L368.32 236.56 L367.80 236.05 L367.28 235.79 L366.51 235.79 M370.38 235.79 L370.38 239.40 M370.38 236.82 L371.15 236.05 L371.67 235.79 L372.44 235.79 L372.96 236.05 L373.22 236.82 L373.22 239.40 M379.41 235.79 L379.41 239.40 M379.41 237.34 L379.67 236.56 L380.18 236.05 L380.70 235.79 L381.47 235.79 M382.51 233.98 L382.76 234.24 L383.02 233.98 L382.76 233.72 L382.51 233.98 M382.76 235.79 L382.76 239.40 M384.83 235.79 L384.83 239.40 M384.83 236.82 L385.60 236.05 L386.12 235.79 L386.89 235.79 L387.41 236.05 L387.67 236.82 L387.67 239.40 M392.57 235.79 L392.57 239.92 L392.31 240.69 L392.05 240.95 L391.54 241.21 L390.76 241.21 L390.25 240.95 M392.57 236.56 L392.05 236.05 L391.54 235.79 L390.76 235.79 L390.25 236.05 L389.73 236.56 L389.47 237.34 L389.47 237.85 L389.73 238.63 L390.25 239.14 L390.76 239.40 L391.54 239.40 L392.05 239.14 L392.57 238.63" fill="none" stroke="#2a2a2a" stroke-width="0.7"/>
<path d="M400.6 236.5 H444.9" stroke="#3a30f2" stroke-width="1.0" fill="none"/>
<path d="M353.61 245.48 L354.90 250.90 M356.19 245.48 L354.90 250.90 M356.19 245.48 L357.48 250.90 M358.77 245.48 L357.48 250.90 M360.06 245.48 L360.32 245.74 L360.58 245.48 L360.32 245.22 L360.06 245.48 M360.32 247.29 L360.32 250.90 M365.22 245.48 L365.22 250.90 M365.22 248.06 L364.70 247.55 L364.19 247.29 L363.41 247.29 L362.90 247.55 L362.38 248.06 L362.12 248.84 L362.12 249.35 L362.38 250.13 L362.90 250.64 L363.41 250.90 L364.19 250.90 L364.70 250.64 L365.22 250.13 M367.03 248.84 L370.12 248.84 L370.12 248.32 L369.86 247.80 L369.61 247.55 L369.09 247.29 L368.32 247.29 L367.80 247.55 L367.28 248.06 L367.03 248.84 L367.03 249.35 L367.28 250.13 L367.80 250.64 L368.32 250.90 L369.09 250.90 L369.61 250.64 L370.12 250.13 M371.93 247.29 L371.93 250.90 M371.93 248.84 L372.19 248.06 L372.70 247.55 L373.22 247.29 L373.99 247.29 M379.41 247.29 L379.41 250.90 M379.41 248.84 L379.67 248.06 L380.18 247.55 L380.70 247.29 L381.47 247.29 M382.51 245.48 L382.76 245.74 L383.02 245.48 L382.76 245.22 L382.51 245.48 M382.76 247.29 L382.76 250.90 M384.83 247.29 L384.83 250.90 M384.83 248.32 L385.60 247.55 L386.12 247.29 L386.89 247.29 L387.41 247.55 L387.67 248.32 L387.67 250.90 M392.57 247.29 L392.57 251.42 L392.31 252.19 L392.05 252.45 L391.54 252.71 L390.76 252.71 L390.25 252.45 M392.57 248.06 L392.05 247.55 L391.54 247.29 L390.76 247.29 L390.25 247.55 L389.73 248.06 L389.47 248.84 L389.47 249.35 L389.73 250.13 L390.25 250.64 L390.76 250.90 L391.54 250.90 L392.05 250.64 L392.57 250.13" fill="none" stroke="#2a2a2a" stroke-width="0.7"/>
<path d="M400.6 248.0 H439.4" stroke="#8a8aff" stroke-width="1.6" fill="none" stroke-dasharray="5.5 5.5"/>
<path d="M358.77 256.98 L358.77 262.40 M358.77 256.98 L362.12 256.98 M358.77 259.56 L360.83 259.56 M358.77 262.40 L362.12 262.40 M366.51 256.98 L366.51 262.40 M366.51 259.56 L365.99 259.05 L365.48 258.79 L364.70 258.79 L364.19 259.05 L363.67 259.56 L363.41 260.34 L363.41 260.85 L363.67 261.63 L364.19 262.14 L364.70 262.40 L365.48 262.40 L365.99 262.14 L366.51 261.63 M371.41 258.79 L371.41 262.92 L371.15 263.69 L370.90 263.95 L370.38 264.21 L369.61 264.21 L369.09 263.95 M371.41 259.56 L370.90 259.05 L370.38 258.79 L369.61 258.79 L369.09 259.05 L368.57 259.56 L368.32 260.34 L368.32 260.85 L368.57 261.63 L369.09 262.14 L369.61 262.40 L370.38 262.40 L370.90 262.14 L371.41 261.63 M373.22 260.34 L376.31 260.34 L376.31 259.82 L376.06 259.30 L375.80 259.05 L375.28 258.79 L374.51 258.79 L373.99 259.05 L373.48 259.56 L373.22 260.34 L373.22 260.85 L373.48 261.63 L373.99 262.14 L374.51 262.40 L375.28 262.40 L375.80 262.14 L376.31 261.63 M378.12 260.08 L382.76 260.08 M385.86 258.79 L385.34 259.05 L384.83 259.56 L384.57 260.34 L384.57 260.85 L384.83 261.63 L385.34 262.14 L385.86 262.40 L386.63 262.40 L387.15 262.14 L387.67 261.63 L387.92 260.85 L387.92 260.34 L387.67 259.56 L387.15 259.05 L386.63 258.79 L385.86 258.79 M389.73 258.79 L389.73 262.40 M389.73 259.82 L390.50 259.05 L391.02 258.79 L391.79 258.79 L392.31 259.05 L392.57 259.82 L392.57 262.40" fill="none" stroke="#2a2a2a" stroke-width="0.7"/>
<path d="M400.6 259.5 H444.9" stroke="#2f6dff" stroke-width="1.0" fill="none" stroke-dasharray="5.6 2.9 1.4 2.9"/>
<path d="M358.51 268.78 L358.51 274.20 M358.51 271.36 L358.00 270.85 L357.48 270.59 L356.71 270.59 L356.19 270.85 L355.67 271.36 L355.42 272.14 L355.42 272.65 L355.67 273.43 L356.19 273.94 L356.71 274.20 L357.48 274.20 L358.00 273.94 L358.51 273.43 M362.38 268.78 L361.61 269.04 L361.09 269.56 L360.58 270.59 L360.32 271.62 L360.32 272.91 L360.58 273.68 L360.83 273.94 L361.35 274.20 L361.87 273.94 L362.38 273.43 L362.90 272.39 L363.16 271.36 L363.16 270.07 L362.90 269.30 L362.64 269.04 L362.38 268.78 M360.45 271.36 L363.16 271.36 M369.09 267.75 L364.45 276.01 M372.44 268.78 L371.67 269.04 L371.15 269.56 L370.64 270.59 L370.38 271.62 L370.38 272.91 L370.64 273.68 L370.90 273.94 L371.41 274.20 L371.93 273.94 L372.44 273.43 L372.96 272.39 L373.22 271.36 L373.22 270.07 L372.96 269.30 L372.70 269.04 L372.44 268.78 M370.51 271.36 L373.22 271.36 M375.02 271.10 L379.67 271.10 M375.02 272.65 L379.67 272.65 M383.02 268.78 L382.25 269.04 L381.73 269.81 L381.47 271.10 L381.47 271.88 L381.73 273.17 L382.25 273.94 L383.02 274.20 L383.54 274.20 L384.31 273.94 L384.83 273.17 L385.09 271.88 L385.09 271.10 L384.83 269.81 L384.31 269.04 L383.54 268.78 L383.02 268.78 M387.15 273.68 L386.89 273.94 L387.15 274.20 L387.41 273.94 L387.15 273.68 M389.99 269.81 L390.50 269.56 L391.28 268.78 L391.28 274.20" fill="none" stroke="#2a2a2a" stroke-width="0.7"/>
<path d="M400.6 271.3 H444.9" stroke="#2f6dff" stroke-width="1.0" fill="none" stroke-dasharray="1.4 1.94"/>
</svg>
</body></html>
